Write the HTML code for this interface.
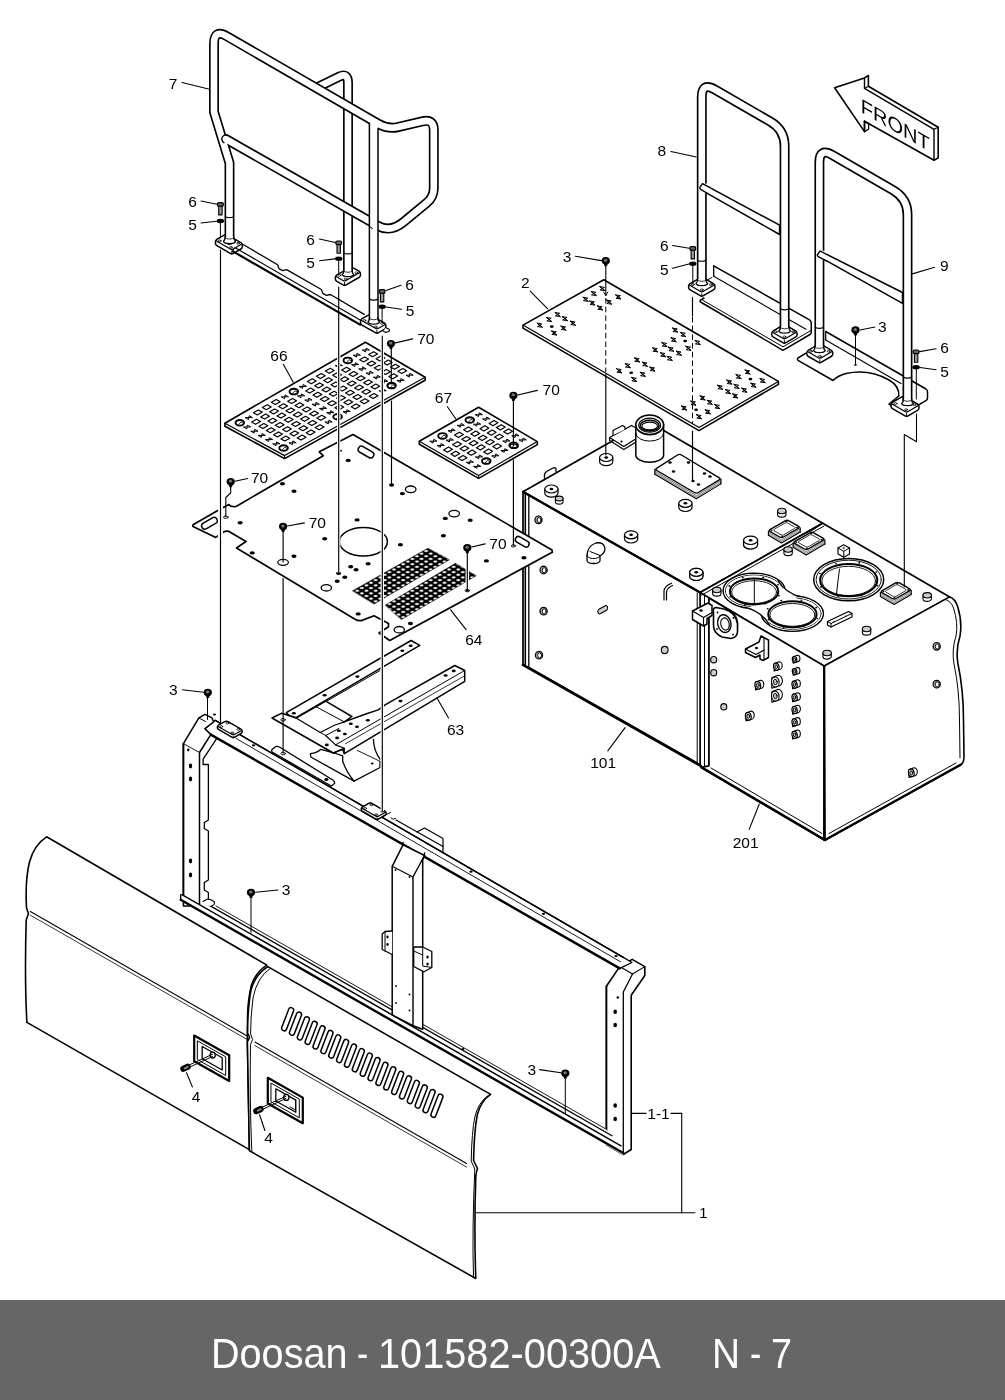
<!DOCTYPE html>
<html><head><meta charset="utf-8"><title>Doosan 101582-00300A</title>
<style>
html,body{margin:0;padding:0;background:#fff;}
body{width:1005px;height:1400px;position:relative;overflow:hidden;font-family:"Liberation Sans",sans-serif;}
svg{position:absolute;left:0;top:0;display:block;will-change:transform;}
svg text{font-family:"Liberation Sans",sans-serif;stroke:none;}
.bar{position:absolute;left:0;top:1300px;width:1005px;height:100px;background:#666;will-change:transform;}
.bar span{position:absolute;top:29.4px;line-height:50px;color:#fff;font-size:42.2px;white-space:pre;transform-origin:0 0;}
</style></head><body>
<svg width="1005" height="1300" viewBox="0 0 1005 1300">
<g fill="none" stroke="#000" stroke-linecap="round" stroke-linejoin="round">
<path d="M523.0,491.8 L647.4,421.0 L822.7,523.3 L700.1,592.5 Z" stroke-width="1.7" fill="#fff" />
<path d="M523.0,491.8 L700.1,592.5 L700.1,765.7 L523.0,664.8 Z" stroke-width="1.7" fill="#fff" />
<line x1="525.3" y1="494.0" x2="525.3" y2="664.5" stroke-width="1.6" />
<line x1="528.8" y1="496.5" x2="528.8" y2="667.5" stroke-width="1.3" />
<line x1="523.0" y1="491.8" x2="700.1" y2="592.5" stroke-width="2.3" />
<line x1="523.0" y1="664.8" x2="700.5" y2="765.7" stroke-width="2.6" />
<line x1="529.4" y1="667.3" x2="698.0" y2="763.0" stroke-width="1.0" />
<line x1="697.2" y1="593.0" x2="697.2" y2="762.5" stroke-width="1.0" />
<path d="M700.1,592.5 L822.7,523.3 L949.7,596.9 L824.2,666.1 Z" stroke-width="1.7" fill="#fff" />
<path d="M708.8,598.0 L824.2,666.1 L824.2,840.0 L701.5,767.4 L708.8,765.9 Z" stroke-width="1.6" fill="#fff" />
<line x1="708.8" y1="598.0" x2="708.8" y2="765.9" stroke-width="1.4" />
<line x1="704.5" y1="596.0" x2="704.5" y2="766.5" stroke-width="1.0" />
<path d="M824.2,666.1 L949.7,596.9 Q955,598.5 957.5,606 Q962.5,622 960,636 Q955.5,650 958,664 Q963.5,690 963.5,720 L964,757 Q964,763 960.5,765 L825,840 Z" stroke-width="1.6" fill="#fff" />
<path d="M945.5,599.5 Q951,601 953.5,608 Q958.5,623 956,636 Q951.5,650 954,664 Q959.5,690 959.5,720 L960,758" stroke-width="1.0" fill="none" />
<line x1="824.2" y1="666.1" x2="824.2" y2="840.0" stroke-width="2.2" />
<line x1="701.5" y1="767.4" x2="825.0" y2="840.0" stroke-width="2.6" />
<line x1="825.0" y1="840.0" x2="961.0" y2="764.5" stroke-width="2.4" />
<line x1="829.0" y1="833.5" x2="956.0" y2="763.0" stroke-width="1.0" />
<line x1="711.0" y1="768.0" x2="822.0" y2="833.5" stroke-width="1.0" />
<line x1="701.5" y1="595.2" x2="824.0" y2="526.0" stroke-width="1.0" />
<path d="M803,534.5 Q814,530.5 822.7,523.3" stroke-width="1.0" fill="none" />
<text x="603.1" y="768.0" font-size="15.5" text-anchor="middle" stroke="none" fill="#000">101</text>
<line x1="607.8" y1="750.9" x2="625.1" y2="727.7" stroke-width="1.1" />
<text x="745.7" y="847.5" font-size="15.5" text-anchor="middle" stroke="none" fill="#000">201</text>
<line x1="749.2" y1="829.4" x2="759.3" y2="804.0" stroke-width="1.1" />
<path d="M544.8,489.0 L544.8,493.2 A6.6,4.0 0 0 0 558.0,493.2 L558.0,489.0" stroke-width="1.2" fill="#fff" />
<ellipse cx="551.4" cy="489.0" rx="6.6" ry="4.0" stroke-width="1.2" fill="#fff"/>
<ellipse cx="551.4" cy="489.0" rx="1.9" ry="1.2" fill="#000" stroke="none"/>
<path d="M599.6,457.5 L599.6,461.7 A6.6,4.0 0 0 0 612.8,461.7 L612.8,457.5" stroke-width="1.2" fill="#fff" />
<ellipse cx="606.2" cy="457.5" rx="6.6" ry="4.0" stroke-width="1.2" fill="#fff"/>
<ellipse cx="606.2" cy="457.5" rx="1.9" ry="1.2" fill="#000" stroke="none"/>
<path d="M678.8,503.3 L678.8,507.5 A6.6,4.0 0 0 0 692.0,507.5 L692.0,503.3" stroke-width="1.2" fill="#fff" />
<ellipse cx="685.4" cy="503.3" rx="6.6" ry="4.0" stroke-width="1.2" fill="#fff"/>
<ellipse cx="685.4" cy="503.3" rx="1.9" ry="1.2" fill="#000" stroke="none"/>
<path d="M624.5,534.8 L624.5,539.0 A6.6,4.0 0 0 0 637.7,539.0 L637.7,534.8" stroke-width="1.2" fill="#fff" />
<ellipse cx="631.1" cy="534.8" rx="6.6" ry="4.0" stroke-width="1.2" fill="#fff"/>
<ellipse cx="631.1" cy="534.8" rx="1.9" ry="1.2" fill="#000" stroke="none"/>
<path d="M689.7,572.3 L689.7,576.5 A6.6,4.0 0 0 0 702.9,576.5 L702.9,572.3" stroke-width="1.2" fill="#fff" />
<ellipse cx="696.3" cy="572.3" rx="6.6" ry="4.0" stroke-width="1.2" fill="#fff"/>
<ellipse cx="696.3" cy="572.3" rx="1.9" ry="1.2" fill="#000" stroke="none"/>
<path d="M743.5,540.8 L743.5,545.0 A6.6,4.0 0 0 0 756.7,545.0 L756.7,540.8" stroke-width="1.2" fill="#fff" />
<ellipse cx="750.1" cy="540.8" rx="6.6" ry="4.0" stroke-width="1.2" fill="#fff"/>
<ellipse cx="750.1" cy="540.8" rx="1.9" ry="1.2" fill="#000" stroke="none"/>
<path d="M555.4,498.5 L555.4,501.7 A3.8,2.4 0 0 0 563.0,501.7 L563.0,498.5" stroke-width="1.1" fill="#fff" />
<ellipse cx="559.2" cy="498.5" rx="3.8" ry="2.4" stroke-width="1.1" fill="#ccc"/>
<path d="M544.5,478 L544.5,474.5 Q545,472.5 547,471.3 L553,468 Q555.5,467.2 556,469 L556,471.5" stroke-width="1.3" fill="#fff" />
<path d="M609.6,437.5 L631.6,425.5 L645.0,433.0 L623.8,446.5 Z" stroke-width="1.3" fill="#fff" />
<path d="M609.6,437.5 L609.6,440.5 L623.8,449.6 L645.0,436.5" stroke-width="1.2" fill="none" />
<path d="M613.0,435.0 L613.0,430.5 L622.5,425.5 L625.0,427.0 L625.0,429.5" stroke-width="1.2" fill="#fff" />
<ellipse cx="621.5" cy="441.5" rx="1.2" ry="0.9" fill="#000" stroke="none"/>
<path d="M635.8,424.6 L635.8,455 A13.9,7.2 0 0 0 663.6,455 L663.6,424.6" stroke-width="1.5" fill="#fff" />
<ellipse cx="649.7" cy="424.8" rx="13.9" ry="9.8" stroke-width="1.6" fill="#fff"/>
<ellipse cx="649.7" cy="425.2" rx="10.9" ry="7.0" stroke-width="1.2" fill="none"/>
<ellipse cx="649.7" cy="425.6" rx="9.3" ry="5.3" fill="none" stroke="#000" stroke-width="1.6" stroke-dasharray="2 1.3"/>
<ellipse cx="649.7" cy="426.0" rx="7.8" ry="3.9" stroke-width="1.1" fill="#fff"/>
<path d="M635.8,433.5 A13.9,7.6 0 0 0 663.6,433.5" stroke-width="1.0" fill="none" />
<path d="M654.9,474.3 L696.3,498.7 L720.9,483.9" stroke-width="1.1" fill="none" />
<path d="M654.9,472.7 L696.3,497.1 L720.9,482.3" stroke-width="0.55" fill="none" />
<path d="M654.9,471.1 L696.3,495.5 L720.9,480.7" stroke-width="0.55" fill="none" />
<path d="M656.9,468.1 L677.5,455.0 Q679.5,453.8 681.5,455.0 L718.9,477.7 Q720.9,478.9 718.9,480.1 L698.3,492.5 Q696.3,493.7 694.3,492.5 L656.9,470.5 Q654.9,469.3 656.9,468.1 Z" stroke-width="1.4" fill="#fff" />
<line x1="654.9" y1="469.3" x2="654.9" y2="474.3" stroke-width="1.2" />
<line x1="720.9" y1="478.9" x2="720.9" y2="483.9" stroke-width="1.2" />
<ellipse cx="670.0" cy="462.5" rx="1.7" ry="1.2" fill="#000" stroke="none"/>
<ellipse cx="688.5" cy="462.5" rx="1.7" ry="1.2" fill="#000" stroke="none"/>
<ellipse cx="673.5" cy="471.5" rx="1.7" ry="1.2" fill="#000" stroke="none"/>
<ellipse cx="704.5" cy="473.5" rx="1.7" ry="1.2" fill="#000" stroke="none"/>
<ellipse cx="710.0" cy="476.5" rx="1.7" ry="1.2" fill="#000" stroke="none"/>
<ellipse cx="698.5" cy="484.5" rx="1.7" ry="1.2" fill="#000" stroke="none"/>
<ellipse cx="693.0" cy="481.0" rx="1.7" ry="1.2" fill="#000" stroke="none"/>
<ellipse cx="538.5" cy="519.8" rx="3.6" ry="3.7800000000000002" stroke-width="1.2" fill="#aaa"/>
<ellipse cx="539.1" cy="520.0" rx="1.9800000000000002" ry="2.52" stroke-width="0.9" fill="#fff"/>
<ellipse cx="543.6" cy="570.0" rx="3.6" ry="3.7800000000000002" stroke-width="1.2" fill="#aaa"/>
<ellipse cx="544.2" cy="570.2" rx="1.9800000000000002" ry="2.52" stroke-width="0.9" fill="#fff"/>
<ellipse cx="543.6" cy="611.2" rx="3.6" ry="3.7800000000000002" stroke-width="1.2" fill="#aaa"/>
<ellipse cx="544.2" cy="611.4" rx="1.9800000000000002" ry="2.52" stroke-width="0.9" fill="#fff"/>
<ellipse cx="539.0" cy="655.2" rx="3.6" ry="3.7800000000000002" stroke-width="1.2" fill="#aaa"/>
<ellipse cx="539.6" cy="655.4" rx="1.9800000000000002" ry="2.52" stroke-width="0.9" fill="#fff"/>
<ellipse cx="936.7" cy="646.3" rx="3.6" ry="3.7800000000000002" stroke-width="1.2" fill="#aaa"/>
<ellipse cx="937.3" cy="646.5" rx="1.9800000000000002" ry="2.52" stroke-width="0.9" fill="#fff"/>
<ellipse cx="936.7" cy="684.2" rx="3.6" ry="3.7800000000000002" stroke-width="1.2" fill="#aaa"/>
<ellipse cx="937.3" cy="684.4" rx="1.9800000000000002" ry="2.52" stroke-width="0.9" fill="#fff"/>
<path d="M587,555 L587,560.5 A6.5,3 0 0 0 600,560.5 L600,556 Q605,553 605,548.5 Q604,541.5 596,543 Q588,545.5 587,555 Z" stroke-width="1.3" fill="#fff" />
<path d="M587,555 A6.5,3 0 0 0 600,556" stroke-width="1.0" fill="none" />
<path d="M590,551.5 L600,555.5" stroke-width="1.0" fill="none" />
<path d="M598.5,609.5 L604.8,606 A1.7,2.4 0 0 1 607,610 L600.7,613.5 A1.7,2.4 0 0 1 598.5,609.5 Z" stroke-width="1.1" fill="#ccc" />
<ellipse cx="664.7" cy="650.0" rx="3.4" ry="3.6" stroke-width="1.1" fill="#ccc"/>
<path d="M664,600 L664,591 Q664.5,586 671.5,583.2" stroke-width="1.2" fill="none" />
<path d="M666.5,600 L666.5,592 Q667,588 672.5,585.5" stroke-width="1.2" fill="none" />
<ellipse cx="754.1" cy="590.8" rx="31" ry="17.6" stroke-width="1.5" fill="#fff"/>
<ellipse cx="792.4" cy="613.6" rx="31" ry="17.6" stroke-width="1.5" fill="#fff"/>
<ellipse cx="754.1" cy="590.8" rx="30.2" ry="16.8" fill="#fff" stroke="none"/>
<ellipse cx="792.4" cy="613.6" rx="30.2" ry="16.8" fill="#fff" stroke="none"/>
<path d="M778.6,581.8 Q785.6,593.2 799,597.4 L769,624 Q761.5,612.8 746,608 Z" fill="#fff" stroke="none"/>
<ellipse cx="754.1" cy="590.8" rx="28.6" ry="15.7" stroke-width="0.9" fill="none"/>
<ellipse cx="792.4" cy="613.6" rx="28.6" ry="15.7" stroke-width="0.9" fill="none"/>
<ellipse cx="754.1" cy="590.8" rx="28.1" ry="15.2" fill="#fff" stroke="none"/>
<ellipse cx="792.4" cy="613.6" rx="28.1" ry="15.2" fill="#fff" stroke="none"/>
<path d="M779,584 Q786,594.5 797,598 L770,622 Q762,613.5 748,609 Z" fill="#fff" stroke="none"/>
<path d="M778,580.5 Q785,592.5 800,596.6" stroke-width="1.4" fill="none" />
<path d="M745,607.2 Q762,612 769.5,625" stroke-width="1.4" fill="none" />
<ellipse cx="754.1" cy="591.4" rx="24.2" ry="13.0" stroke-width="2.0" fill="#fff"/>
<ellipse cx="792.4" cy="614.2" rx="24.2" ry="13.0" stroke-width="2.0" fill="#fff"/>
<ellipse cx="754.1" cy="592.1" rx="22.4" ry="11.4" stroke-width="0.9" fill="none"/>
<ellipse cx="792.4" cy="614.9" rx="22.4" ry="11.4" stroke-width="0.9" fill="none"/>
<line x1="754.3" y1="579.0" x2="754.3" y2="603.5" stroke-width="1.0" />
<ellipse cx="778.9" cy="595.7" rx="1.0" ry="0.8" fill="#000" stroke="none"/>
<ellipse cx="765.3" cy="603.8" rx="1.0" ry="0.8" fill="#000" stroke="none"/>
<ellipse cx="745.1" cy="604.2" rx="1.0" ry="0.8" fill="#000" stroke="none"/>
<ellipse cx="730.2" cy="596.8" rx="1.0" ry="0.8" fill="#000" stroke="none"/>
<ellipse cx="729.3" cy="585.9" rx="1.0" ry="0.8" fill="#000" stroke="none"/>
<ellipse cx="742.9" cy="577.8" rx="1.0" ry="0.8" fill="#000" stroke="none"/>
<ellipse cx="763.1" cy="577.4" rx="1.0" ry="0.8" fill="#000" stroke="none"/>
<ellipse cx="778.0" cy="584.8" rx="1.0" ry="0.8" fill="#000" stroke="none"/>
<ellipse cx="817.2" cy="618.5" rx="1.0" ry="0.8" fill="#000" stroke="none"/>
<ellipse cx="803.6" cy="626.6" rx="1.0" ry="0.8" fill="#000" stroke="none"/>
<ellipse cx="783.4" cy="627.0" rx="1.0" ry="0.8" fill="#000" stroke="none"/>
<ellipse cx="768.5" cy="619.6" rx="1.0" ry="0.8" fill="#000" stroke="none"/>
<ellipse cx="767.6" cy="608.7" rx="1.0" ry="0.8" fill="#000" stroke="none"/>
<ellipse cx="781.2" cy="600.6" rx="1.0" ry="0.8" fill="#000" stroke="none"/>
<ellipse cx="801.4" cy="600.2" rx="1.0" ry="0.8" fill="#000" stroke="none"/>
<ellipse cx="816.3" cy="607.6" rx="1.0" ry="0.8" fill="#000" stroke="none"/>
<ellipse cx="848.7" cy="579.6" rx="35" ry="21.2" stroke-width="1.5" fill="#fff"/>
<ellipse cx="848.7" cy="579.6" rx="32.6" ry="19.4" stroke-width="0.9" fill="none"/>
<ellipse cx="848.7" cy="580.1" rx="28.6" ry="16.2" stroke-width="2.0" fill="#fff"/>
<ellipse cx="848.7" cy="580.9" rx="26.8" ry="14.6" stroke-width="0.9" fill="none"/>
<path d="M839.5,569 Q838,580 836.5,594" stroke-width="1.0" fill="none" />
<ellipse cx="877.5" cy="585.7" rx="1.0" ry="0.8" fill="#000" stroke="none"/>
<ellipse cx="861.6" cy="595.7" rx="1.0" ry="0.8" fill="#000" stroke="none"/>
<ellipse cx="838.2" cy="596.3" rx="1.0" ry="0.8" fill="#000" stroke="none"/>
<ellipse cx="821.0" cy="587.1" rx="1.0" ry="0.8" fill="#000" stroke="none"/>
<ellipse cx="819.9" cy="573.5" rx="1.0" ry="0.8" fill="#000" stroke="none"/>
<ellipse cx="835.8" cy="563.5" rx="1.0" ry="0.8" fill="#000" stroke="none"/>
<ellipse cx="859.2" cy="562.9" rx="1.0" ry="0.8" fill="#000" stroke="none"/>
<ellipse cx="876.4" cy="572.1" rx="1.0" ry="0.8" fill="#000" stroke="none"/>
<path d="M768.4,535.3 L781.5,542.9 L800.2,532.1" stroke-width="1.1" fill="none" />
<path d="M768.4,533.8 L781.5,541.4 L800.2,530.6" stroke-width="0.5" fill="none" />
<path d="M768.4,532.2 L781.5,539.8 L800.2,529.0" stroke-width="0.5" fill="none" />
<path d="M770.3,529.4 Q768.4,530.5 770.3,531.6 L779.6,537.0 Q781.5,538.1 783.4,537.0 L798.3,528.4 Q800.2,527.3 798.3,526.2 L789.0,520.8 Q787.1,519.7 785.2,520.8 Z" stroke-width="1.4" fill="#fff" />
<line x1="768.4" y1="531.0" x2="768.4" y2="535.3" stroke-width="1.1" />
<line x1="800.2" y1="527.8" x2="800.2" y2="532.1" stroke-width="1.1" />
<path d="M774.1,529.3 Q772.8,530.1 774.1,530.8 L781.0,534.8 Q782.3,535.5 783.6,534.8 L794.5,528.5 Q795.8,527.7 794.5,527.0 L787.6,523.0 Q786.3,522.3 785.0,523.0 Z" stroke-width="0.8" fill="none" />
<ellipse cx="771.6" cy="530.2" rx="1.0" ry="0.8" fill="#000" stroke="none"/>
<ellipse cx="782.1" cy="536.3" rx="1.0" ry="0.8" fill="#000" stroke="none"/>
<ellipse cx="797.0" cy="527.6" rx="1.0" ry="0.8" fill="#000" stroke="none"/>
<ellipse cx="786.5" cy="521.5" rx="1.0" ry="0.8" fill="#000" stroke="none"/>
<path d="M793.1,547.3 L806.2,554.9 L824.9,544.1" stroke-width="1.1" fill="none" />
<path d="M793.1,545.8 L806.2,553.4 L824.9,542.6" stroke-width="0.5" fill="none" />
<path d="M793.1,544.2 L806.2,551.8 L824.9,541.0" stroke-width="0.5" fill="none" />
<path d="M795.0,541.4 Q793.1,542.5 795.0,543.6 L804.3,549.0 Q806.2,550.1 808.1,549.0 L823.0,540.4 Q824.9,539.3 823.0,538.2 L813.7,532.8 Q811.8,531.7 809.9,532.8 Z" stroke-width="1.4" fill="#fff" />
<line x1="793.1" y1="543.0" x2="793.1" y2="547.3" stroke-width="1.1" />
<line x1="824.9" y1="539.8" x2="824.9" y2="544.1" stroke-width="1.1" />
<path d="M798.8,541.3 Q797.5,542.1 798.8,542.8 L805.7,546.8 Q807.0,547.5 808.3,546.8 L819.2,540.5 Q820.5,539.7 819.2,539.0 L812.3,535.0 Q811.0,534.3 809.7,535.0 Z" stroke-width="0.8" fill="none" />
<ellipse cx="796.3" cy="542.2" rx="1.0" ry="0.8" fill="#000" stroke="none"/>
<ellipse cx="806.8" cy="548.3" rx="1.0" ry="0.8" fill="#000" stroke="none"/>
<ellipse cx="821.7" cy="539.6" rx="1.0" ry="0.8" fill="#000" stroke="none"/>
<ellipse cx="811.2" cy="533.5" rx="1.0" ry="0.8" fill="#000" stroke="none"/>
<path d="M880.4,596.5 L894.1,604.4 L911.2,594.5" stroke-width="1.1" fill="none" />
<path d="M880.4,595.0 L894.1,602.9 L911.2,593.0" stroke-width="0.5" fill="none" />
<path d="M880.4,593.4 L894.1,601.3 L911.2,591.4" stroke-width="0.5" fill="none" />
<path d="M882.3,590.6 Q880.4,591.7 882.3,592.8 L892.2,598.5 Q894.1,599.6 896.0,598.5 L909.3,590.8 Q911.2,589.7 909.3,588.6 L899.4,582.9 Q897.5,581.8 895.6,582.9 Z" stroke-width="1.4" fill="#fff" />
<line x1="880.4" y1="592.2" x2="880.4" y2="596.5" stroke-width="1.1" />
<line x1="911.2" y1="590.2" x2="911.2" y2="594.5" stroke-width="1.1" />
<path d="M886.0,590.7 Q884.7,591.4 886.0,592.2 L893.3,596.4 Q894.6,597.1 895.9,596.4 L905.6,590.7 Q906.9,590.0 905.6,589.2 L898.3,585.0 Q897.0,584.3 895.7,585.0 Z" stroke-width="0.8" fill="none" />
<ellipse cx="883.5" cy="591.5" rx="1.0" ry="0.8" fill="#000" stroke="none"/>
<ellipse cx="894.4" cy="597.8" rx="1.0" ry="0.8" fill="#000" stroke="none"/>
<ellipse cx="908.1" cy="589.9" rx="1.0" ry="0.8" fill="#000" stroke="none"/>
<ellipse cx="897.2" cy="583.6" rx="1.0" ry="0.8" fill="#000" stroke="none"/>
<path d="M838.0,548.0 L843.5,544.8 L849.5,548.0 L849.5,554.0 L843.8,557.3 L838.0,554.0 Z" stroke-width="1.2" fill="#fff" />
<path d="M838.0,548.0 L843.8,551.3 L849.5,548.0" stroke-width="1.0" fill="none" />
<line x1="843.8" y1="551.3" x2="843.8" y2="557.3" stroke-width="1.0" />
<ellipse cx="843.7" cy="548.0" rx="1.2" ry="0.8" fill="#000" stroke="none"/>
<path d="M743.6,540.3 L743.6,544.8 A7,4.2 0 0 0 757.6,544.8 L757.6,540.3" stroke-width="1.2" fill="#fff" />
<ellipse cx="750.6" cy="540.3" rx="7" ry="4.2" stroke-width="1.2" fill="#fff"/>
<ellipse cx="750.6" cy="540.3" rx="1.9" ry="1.2" fill="#000" stroke="none"/>
<path d="M689.7,572.3 L689.7,576.5 A6.6,4.0 0 0 0 702.9,576.5 L702.9,572.3" stroke-width="1.2" fill="#fff" />
<ellipse cx="696.3" cy="572.3" rx="6.6" ry="4.0" stroke-width="1.2" fill="#fff"/>
<ellipse cx="696.3" cy="572.3" rx="1.9" ry="1.2" fill="#000" stroke="none"/>
<path d="M777.6,511.0 L777.6,514.4 A4.2,2.7 0 0 0 786.0,514.4 L786.0,511.0" stroke-width="1.1" fill="#fff" />
<ellipse cx="781.8" cy="511.0" rx="4.2" ry="2.7" stroke-width="1.1" fill="#ccc"/>
<path d="M783.9,549.5 L783.9,552.9 A4.2,2.7 0 0 0 792.3,552.9 L792.3,549.5" stroke-width="1.1" fill="#fff" />
<ellipse cx="788.1" cy="549.5" rx="4.2" ry="2.7" stroke-width="1.1" fill="#ccc"/>
<path d="M712.6,590.0 L712.6,593.4 A4.2,2.7 0 0 0 721.0,593.4 L721.0,590.0" stroke-width="1.1" fill="#fff" />
<ellipse cx="716.8" cy="590.0" rx="4.2" ry="2.7" stroke-width="1.1" fill="#ccc"/>
<path d="M822.9,653.0 L822.9,656.4 A4.2,2.7 0 0 0 831.3,656.4 L831.3,653.0" stroke-width="1.1" fill="#fff" />
<ellipse cx="827.1" cy="653.0" rx="4.2" ry="2.7" stroke-width="1.1" fill="#ccc"/>
<path d="M862.4,629.0 L862.4,632.4 A4.2,2.7 0 0 0 870.8,632.4 L870.8,629.0" stroke-width="1.1" fill="#fff" />
<ellipse cx="866.6" cy="629.0" rx="4.2" ry="2.7" stroke-width="1.1" fill="#ccc"/>
<path d="M923.0,595.3 L923.0,598.7 A4.2,2.7 0 0 0 931.4,598.7 L931.4,595.3" stroke-width="1.1" fill="#fff" />
<ellipse cx="927.2" cy="595.3" rx="4.2" ry="2.7" stroke-width="1.1" fill="#ccc"/>
<path d="M827.5,621.5 L848.5,611.5 L852.0,613.5 L852.0,617.0 L831.0,627.0 L827.5,625.0 Z" stroke-width="1.2" fill="#fff" />
<path d="M827.5,621.5 L831.0,623.5 L852.0,613.5" stroke-width="1.0" fill="none" />
<line x1="831.0" y1="623.5" x2="831.0" y2="627.0" stroke-width="1.0" />
<ellipse cx="834.0" cy="621.5" rx="0.8" ry="0.6" fill="#000" stroke="none"/>
<ellipse cx="845.5" cy="616.0" rx="0.8" ry="0.6" fill="#000" stroke="none"/>
<path d="M692.5,611 L708,603 L712,605.5 L712,615.5 L707,618.5 L707,624 L703.5,626 L692.5,619.5 Z" stroke-width="1.5" fill="#fff" />
<path d="M692.5,611 L703.5,617.5 L712,612.5" stroke-width="1.1" fill="none" />
<line x1="703.5" y1="617.5" x2="703.5" y2="626.0" stroke-width="1.1" />
<ellipse cx="701.0" cy="610.5" rx="1.7" ry="1.2" fill="#000" stroke="none"/>
<path d="M713.5,612 Q712.5,608 716,607.5 L724,609 Q736,612.5 737.5,624 L737.5,632 Q737,637.5 731,638.5 L722,637 Q714,633.5 713.5,626 Z" stroke-width="1.6" fill="#fff" />
<ellipse cx="724.3" cy="623.6" rx="6.6" ry="9" stroke-width="1.4" fill="#fff" transform="rotate(-12 724.3 623.6)"/>
<ellipse cx="725.0" cy="624.0" rx="4.2" ry="6.2" stroke-width="1.1" fill="none" transform="rotate(-12 725.0 624.0)"/>
<path d="M731,611.5 Q739.5,616 737.5,628" stroke-width="1.0" fill="none" />
<ellipse cx="717.5" cy="612.5" rx="0.9" ry="0.9" fill="#000" stroke="none"/>
<ellipse cx="733.5" cy="618.0" rx="0.9" ry="0.9" fill="#000" stroke="none"/>
<ellipse cx="733.0" cy="634.5" rx="0.9" ry="0.9" fill="#000" stroke="none"/>
<ellipse cx="717.0" cy="629.0" rx="0.9" ry="0.9" fill="#000" stroke="none"/>
<path d="M745.5,649 L759,642 L761,636 L768.5,640 L768.5,657.5 L763,660.5 L760,659 L760,655 L755.5,657.5 L745.5,652.5 Z" stroke-width="1.5" fill="#fff" />
<path d="M745.5,649 L756,654.5 L764,650 L764,659.5" stroke-width="1.1" fill="none" />
<line x1="764.0" y1="650.0" x2="764.0" y2="638.0" stroke-width="1.1" />
<ellipse cx="756.5" cy="648.0" rx="1.6" ry="1.2" fill="#000" stroke="none"/>
<path d="M793.1,656.8 L797.3,655.3 A2.4,3.0 0 0 1 797.3,661.9 L793.1,663.1 Z" stroke-width="1.1" fill="#fff" />
<ellipse cx="794.6" cy="659.5" rx="2.25" ry="3.0" stroke-width="1.2" fill="#fff" transform="rotate(-10 794.6 659.5)"/>
<ellipse cx="794.6" cy="659.5" rx="1.1400000000000001" ry="1.6500000000000001" stroke-width="0.9" fill="#bbb" transform="rotate(-10 794.6 659.5)"/>
<path d="M793.1,668.9 L797.3,667.4 A2.4,3.0 0 0 1 797.3,674.0 L793.1,675.2 Z" stroke-width="1.1" fill="#fff" />
<ellipse cx="794.6" cy="671.6" rx="2.25" ry="3.0" stroke-width="1.2" fill="#fff" transform="rotate(-10 794.6 671.6)"/>
<ellipse cx="794.6" cy="671.6" rx="1.1400000000000001" ry="1.6500000000000001" stroke-width="0.9" fill="#bbb" transform="rotate(-10 794.6 671.6)"/>
<path d="M792.6,681.5 L797.3,679.8 A2.8,3.5 0 0 1 797.3,687.4 L792.6,688.8 Z" stroke-width="1.1" fill="#fff" />
<ellipse cx="794.6" cy="684.6" rx="2.625" ry="3.5" stroke-width="1.2" fill="#fff" transform="rotate(-10 794.6 684.6)"/>
<ellipse cx="794.6" cy="684.6" rx="1.33" ry="1.9250000000000003" stroke-width="0.9" fill="#bbb" transform="rotate(-10 794.6 684.6)"/>
<path d="M792.6,694.4 L797.3,692.7 A2.8,3.5 0 0 1 797.3,700.4 L792.6,701.8 Z" stroke-width="1.1" fill="#fff" />
<ellipse cx="794.6" cy="697.5" rx="2.625" ry="3.5" stroke-width="1.2" fill="#fff" transform="rotate(-10 794.6 697.5)"/>
<ellipse cx="794.6" cy="697.5" rx="1.33" ry="1.9250000000000003" stroke-width="0.9" fill="#bbb" transform="rotate(-10 794.6 697.5)"/>
<path d="M792.6,706.9 L797.3,705.2 A2.8,3.5 0 0 1 797.3,712.9 L792.6,714.2 Z" stroke-width="1.1" fill="#fff" />
<ellipse cx="794.6" cy="710.0" rx="2.625" ry="3.5" stroke-width="1.2" fill="#fff" transform="rotate(-10 794.6 710.0)"/>
<ellipse cx="794.6" cy="710.0" rx="1.33" ry="1.9250000000000003" stroke-width="0.9" fill="#bbb" transform="rotate(-10 794.6 710.0)"/>
<path d="M792.6,719.3 L797.3,717.6 A2.8,3.5 0 0 1 797.3,725.2 L792.6,726.6 Z" stroke-width="1.1" fill="#fff" />
<ellipse cx="794.6" cy="722.4" rx="2.625" ry="3.5" stroke-width="1.2" fill="#fff" transform="rotate(-10 794.6 722.4)"/>
<ellipse cx="794.6" cy="722.4" rx="1.33" ry="1.9250000000000003" stroke-width="0.9" fill="#bbb" transform="rotate(-10 794.6 722.4)"/>
<path d="M792.6,731.7 L797.3,730.0 A2.8,3.5 0 0 1 797.3,737.6 L792.6,739.0 Z" stroke-width="1.1" fill="#fff" />
<ellipse cx="794.6" cy="734.8" rx="2.625" ry="3.5" stroke-width="1.2" fill="#fff" transform="rotate(-10 794.6 734.8)"/>
<ellipse cx="794.6" cy="734.8" rx="1.33" ry="1.9250000000000003" stroke-width="0.9" fill="#bbb" transform="rotate(-10 794.6 734.8)"/>
<path d="M774.2,663.5 L779.0,661.7 A2.9,3.6 0 0 1 779.0,669.6 L774.2,671.1 Z" stroke-width="1.1" fill="#fff" />
<ellipse cx="776.3" cy="666.7" rx="2.7" ry="3.6" stroke-width="1.2" fill="#fff" transform="rotate(-10 776.3 666.7)"/>
<ellipse cx="776.3" cy="666.7" rx="1.368" ry="1.9800000000000002" stroke-width="0.9" fill="#bbb" transform="rotate(-10 776.3 666.7)"/>
<path d="M755.5,682.1 L760.5,680.2 A3.0,3.8 0 0 1 760.5,688.5 L755.5,690.0 Z" stroke-width="1.1" fill="#fff" />
<ellipse cx="757.8" cy="685.4" rx="2.8499999999999996" ry="3.8" stroke-width="1.2" fill="#fff" transform="rotate(-10 757.8 685.4)"/>
<ellipse cx="757.8" cy="685.4" rx="1.444" ry="2.09" stroke-width="0.9" fill="#bbb" transform="rotate(-10 757.8 685.4)"/>
<path d="M771.8,677.7 L778.0,675.2 A4.0,5.0 0 0 1 778.0,686.2 L771.8,688.2 Z" stroke-width="1.1" fill="#fff" />
<ellipse cx="775.3" cy="682.0" rx="3.75" ry="5" stroke-width="1.2" fill="#fff" transform="rotate(-10 775.3 682.0)"/>
<ellipse cx="775.3" cy="682.0" rx="1.9" ry="2.75" stroke-width="0.9" fill="#bbb" transform="rotate(-10 775.3 682.0)"/>
<path d="M771.8,691.8 L778.0,689.3 A4.0,5.0 0 0 1 778.0,700.3 L771.8,702.3 Z" stroke-width="1.1" fill="#fff" />
<ellipse cx="775.3" cy="696.1" rx="3.75" ry="5" stroke-width="1.2" fill="#fff" transform="rotate(-10 775.3 696.1)"/>
<ellipse cx="775.3" cy="696.1" rx="1.9" ry="2.75" stroke-width="0.9" fill="#bbb" transform="rotate(-10 775.3 696.1)"/>
<path d="M746.0,713.0 L751.0,711.1 A3.0,3.8 0 0 1 751.0,719.4 L746.0,720.9 Z" stroke-width="1.1" fill="#fff" />
<ellipse cx="748.3" cy="716.3" rx="2.8499999999999996" ry="3.8" stroke-width="1.2" fill="#fff" transform="rotate(-10 748.3 716.3)"/>
<ellipse cx="748.3" cy="716.3" rx="1.444" ry="2.09" stroke-width="0.9" fill="#bbb" transform="rotate(-10 748.3 716.3)"/>
<path d="M909.0,769.6 L914.0,767.7 A3.0,3.8 0 0 1 914.0,776.0 L909.0,777.5 Z" stroke-width="1.1" fill="#fff" />
<ellipse cx="911.3" cy="772.9" rx="2.8499999999999996" ry="3.8" stroke-width="1.2" fill="#fff" transform="rotate(-10 911.3 772.9)"/>
<ellipse cx="911.3" cy="772.9" rx="1.444" ry="2.09" stroke-width="0.9" fill="#bbb" transform="rotate(-10 911.3 772.9)"/>
<ellipse cx="723.8" cy="706.8" rx="3.0" ry="3.2" stroke-width="1.1" fill="#ccc"/>
<ellipse cx="713.7" cy="659.7" rx="3.0" ry="3.2" stroke-width="1.1" fill="#ccc"/>
<ellipse cx="713.7" cy="672.7" rx="3.0" ry="3.2" stroke-width="1.1" fill="#ccc"/>
<path d="M336.9,275.1 Q335.3,276.1 335.3,277.9 L335.3,278.7 Q335.3,280.5 336.9,281.4 L343.0,284.8 Q344.5,285.8 346.1,284.8 L358.9,277.5 Q360.5,276.5 360.5,274.7 L360.5,273.9 Q360.5,272.1 358.9,271.2 L352.8,267.8 Q351.3,266.9 349.7,267.8 Z" stroke-width="1.5" fill="#fff" />
<path d="M336.9,275.1 Q335.3,276.1 336.9,277.0 L343.0,280.4 Q344.5,281.4 346.1,280.4 L358.9,273.1 Q360.5,272.1 358.9,271.2 L352.8,267.8 Q351.3,266.9 349.7,267.8 Z" stroke-width="1.2" fill="#fff" />
<line x1="344.5" y1="282.4" x2="344.5" y2="285.8" stroke-width="0.9" />
<ellipse cx="339.4" cy="275.4" rx="1.4" ry="0.9" fill="none" stroke-width="0.8"/>
<ellipse cx="356.4" cy="272.8" rx="1.4" ry="0.9" fill="none" stroke-width="0.8"/>
<ellipse cx="345.6" cy="279.0" rx="1.4" ry="0.9" fill="none" stroke-width="0.8"/>
<ellipse cx="350.2" cy="269.2" rx="1.4" ry="0.9" fill="none" stroke-width="0.8"/>
<path d="M348,274 L348,83 Q348,72.5 339.5,76.6 L316,88" stroke="#000" stroke-width="9.950000000000001" fill="none" stroke-linecap="butt"/>
<path d="M348,274 L348,83 Q348,72.5 339.5,76.6 L316,88" stroke="#fff" stroke-width="6.65" fill="none" stroke-linecap="butt"/>
<path d="M343.9,252.7 A4.2,1.6 0 0 0 352.1,252.7" stroke-width="1.2" fill="none" />
<path d="M343.9,270.0 Q343.9,273.5 342.1,274.5 A6.0,2.6 0 0 0 353.9,274.5 Q352.1,273.5 352.1,270.0" stroke-width="1.3" fill="#fff" />
<path d="M343.9,271.0 A4.2,1.6 0 0 0 352.1,271.0" stroke-width="0.8" fill="none" />
<path d="M216.9,239.4 Q215.4,240.3 215.4,242.1 L215.4,242.9 Q215.4,244.7 216.9,245.6 L230.3,253.3 Q231.8,254.2 233.4,253.3 L240.9,249.0 Q242.4,248.1 242.4,246.3 L242.4,245.5 Q242.4,243.7 240.9,242.8 L227.5,235.1 Q226.0,234.2 224.4,235.1 Z" stroke-width="1.5" fill="#fff" />
<path d="M216.9,239.4 Q215.4,240.3 216.9,241.2 L230.3,248.9 Q231.8,249.8 233.4,248.9 L240.9,244.6 Q242.4,243.7 240.9,242.8 L227.5,235.1 Q226.0,234.2 224.4,235.1 Z" stroke-width="1.2" fill="#fff" />
<line x1="231.8" y1="250.8" x2="231.8" y2="254.2" stroke-width="0.9" />
<ellipse cx="219.7" cy="240.8" rx="1.4" ry="0.9" fill="none" stroke-width="0.8"/>
<ellipse cx="238.1" cy="243.2" rx="1.4" ry="0.9" fill="none" stroke-width="0.8"/>
<ellipse cx="230.9" cy="247.3" rx="1.4" ry="0.9" fill="none" stroke-width="0.8"/>
<ellipse cx="226.9" cy="236.7" rx="1.4" ry="0.9" fill="none" stroke-width="0.8"/>
<path d="M241.8,243.8 L277.6,264.7 L279.0,268.6 L282.6,270.6 L286.6,269.6 L321.4,289.5 L322.8,293.4 L326.4,295.4 L330.4,294.5 L364.2,314.4" stroke-width="1.3" fill="none" />
<line x1="234.9" y1="247.6" x2="361.0" y2="320.4" stroke-width="1.2" />
<line x1="233.0" y1="251.4" x2="360.0" y2="324.6" stroke-width="2.2" />
<line x1="233.0" y1="249.0" x2="233.0" y2="252.0" stroke-width="1.2" />
<path d="M362.0,318.8 Q360.5,319.8 360.5,321.6 L360.5,322.3 Q360.5,324.1 362.0,325.1 L375.4,332.7 Q376.9,333.6 378.5,332.7 L384.4,329.4 Q385.9,328.4 385.9,326.6 L385.9,325.8 Q385.9,324.0 384.4,323.1 L371.0,315.5 Q369.5,314.5 367.9,315.5 Z" stroke-width="1.5" fill="#fff" />
<path d="M362.0,318.8 Q360.5,319.8 362.0,320.7 L375.4,328.3 Q376.9,329.2 378.5,328.3 L384.4,325.0 Q385.9,324.0 384.4,323.1 L371.0,315.5 Q369.5,314.5 367.9,315.5 Z" stroke-width="1.2" fill="#fff" />
<line x1="376.9" y1="330.2" x2="376.9" y2="333.6" stroke-width="0.9" />
<ellipse cx="364.5" cy="320.4" rx="1.4" ry="0.9" fill="none" stroke-width="0.8"/>
<ellipse cx="381.9" cy="323.4" rx="1.4" ry="0.9" fill="none" stroke-width="0.8"/>
<ellipse cx="375.7" cy="326.9" rx="1.4" ry="0.9" fill="none" stroke-width="0.8"/>
<ellipse cx="370.7" cy="316.9" rx="1.4" ry="0.9" fill="none" stroke-width="0.8"/>
<path d="M385.5,327.5 L389.5,329.5 L389.5,331.0 L386.0,332.5 L383.5,331.3" stroke-width="1.2" fill="#fff" />
<path d="M229.5,240 L229.5,163 L214,112 L214,44 Q214,28.8 227,36.3 L378,123.6 Q388.3,129.5 398,127.1 L422,121.4 Q433.8,118.5 433.8,130 L433.8,188 Q433.8,197 427,202.6 L404,221.7 Q390.5,232.9 378,225.8 L226,139.1" stroke="#000" stroke-width="9.950000000000001" fill="none" stroke-linecap="round"/>
<path d="M229.5,240 L229.5,163 L214,112 L214,44 Q214,28.8 227,36.3 L378,123.6 Q388.3,129.5 398,127.1 L422,121.4 Q433.8,118.5 433.8,130 L433.8,188 Q433.8,197 427,202.6 L404,221.7 Q390.5,232.9 378,225.8 L226,139.1" stroke="#fff" stroke-width="6.65" fill="none" stroke-linecap="round"/>
<path d="M228.1,135.5 A4.15,4.15 0 0 0 223.9,142.7" stroke-width="1.4" fill="none" />
<path d="M225.3,216.0 A4.2,1.6 0 0 0 233.7,216.0" stroke-width="1.2" fill="none" />
<path d="M225.3,236.5 Q225.3,240.0 223.5,241.0 A6.0,2.6 0 0 0 235.5,241.0 Q233.7,240.0 233.7,236.5" stroke-width="1.3" fill="#fff" />
<path d="M225.3,237.5 A4.2,1.6 0 0 0 233.7,237.5" stroke-width="0.8" fill="none" />
<path d="M373.7,126.2 L373.7,321" stroke="#fff" stroke-width="8.3" stroke-linecap="butt"/>
<path d="M370,121.6 L377.4,125.9 L377.4,130 L370,130 Z" fill="#fff" stroke="none"/>
<line x1="369.4" y1="123.6" x2="369.4" y2="321.0" stroke-width="1.5" />
<line x1="378.0" y1="128.7" x2="378.0" y2="321.0" stroke-width="1.5" />
<path d="M369.6,298.9 A4.2,1.6 0 0 0 377.8,298.9" stroke-width="1.2" fill="none" />
<path d="M369.6,317.5 Q369.6,321.0 367.8,322.0 A6.0,2.6 0 0 0 379.6,322.0 Q377.8,321.0 377.8,317.5" stroke-width="1.3" fill="#fff" />
<path d="M369.6,318.5 A4.2,1.6 0 0 0 377.8,318.5" stroke-width="0.8" fill="none" />
<path d="M369.5,221.5 L369.5,226.5 L372.5,228.5" stroke-width="1.0" fill="none" />
<rect x="217.5" y="202.7" width="5.8" height="3.6" rx="1.3" fill="#666" stroke-width="1.2"/>
<rect x="218.7" y="206.3" width="3.4" height="8.6" fill="#999" stroke-width="1.1"/>
<ellipse cx="220.4" cy="221.0" rx="3.7" ry="2.2" fill="#000" stroke="none"/>
<line x1="220.4" y1="223.0" x2="220.4" y2="238.0" stroke-width="1.0" />
<rect x="335.8" y="241.0" width="5.8" height="3.6" rx="1.3" fill="#666" stroke-width="1.2"/>
<rect x="337.0" y="244.6" width="3.4" height="8.6" fill="#999" stroke-width="1.1"/>
<ellipse cx="338.7" cy="258.7" rx="3.7" ry="2.2" fill="#000" stroke="none"/>
<line x1="338.7" y1="260.7" x2="338.7" y2="274.0" stroke-width="1.0" />
<rect x="379.2" y="289.7" width="5.8" height="3.6" rx="1.3" fill="#666" stroke-width="1.2"/>
<rect x="380.4" y="293.3" width="3.4" height="8.6" fill="#999" stroke-width="1.1"/>
<ellipse cx="382.1" cy="306.8" rx="3.7" ry="2.2" fill="#000" stroke="none"/>
<line x1="382.1" y1="308.8" x2="382.1" y2="322.0" stroke-width="1.0" />
<text x="173.0" y="88.5" font-size="15.5" text-anchor="middle" stroke="none" fill="#000">7</text>
<line x1="182.0" y1="82.5" x2="208.5" y2="89.0" stroke-width="1.1" />
<text x="192.5" y="207.2" font-size="15.5" text-anchor="middle" stroke="none" fill="#000">6</text>
<line x1="201.0" y1="201.0" x2="217.0" y2="204.2" stroke-width="1.1" />
<text x="192.5" y="230.3" font-size="15.5" text-anchor="middle" stroke="none" fill="#000">5</text>
<line x1="201.0" y1="223.0" x2="216.5" y2="221.2" stroke-width="1.1" />
<text x="310.5" y="244.7" font-size="15.5" text-anchor="middle" stroke="none" fill="#000">6</text>
<line x1="319.5" y1="239.0" x2="335.3" y2="242.5" stroke-width="1.1" />
<text x="310.5" y="268.0" font-size="15.5" text-anchor="middle" stroke="none" fill="#000">5</text>
<line x1="319.5" y1="260.8" x2="334.8" y2="258.9" stroke-width="1.1" />
<text x="409.5" y="290.0" font-size="15.5" text-anchor="middle" stroke="none" fill="#000">6</text>
<line x1="401.0" y1="285.3" x2="386.0" y2="290.5" stroke-width="1.1" />
<text x="410.0" y="316.0" font-size="15.5" text-anchor="middle" stroke="none" fill="#000">5</text>
<line x1="401.5" y1="309.3" x2="386.0" y2="307.0" stroke-width="1.1" />
<path d="M224.9,423.2 L365.4,342.3 L425.1,377.2 L425.1,380.2 L284.6,458.6 L224.9,426.2 Z" stroke-width="1.6" fill="#fff" />
<path d="M224.9,423.2 L284.6,455.6 L425.1,377.2" stroke-width="1.2" fill="none" />
<line x1="284.6" y1="455.6" x2="284.6" y2="458.6" stroke-width="1.0" />
<ellipse cx="239.8" cy="422.8" rx="4.3" ry="2.8" stroke-width="1.9" fill="#fff"/>
<path d="M238.8,424.4 L241.0,422.0 L243.2,423.2" stroke-width="0.8" fill="none" />
<path d="M245.5,417.8 L248.5,419.5 L249.1,415.7 L252.1,417.4 Z" stroke-width="1.0" fill="none" />
<path d="M253.4,412.7 L257.3,414.9 L262.2,412.1 L258.3,409.9 Z" stroke-width="1.2" fill="none" />
<path d="M262.4,407.5 L266.3,409.7 L271.2,406.9 L267.3,404.7 Z" stroke-width="1.2" fill="none" />
<path d="M271.4,402.3 L275.3,404.5 L280.2,401.7 L276.3,399.5 Z" stroke-width="1.2" fill="none" />
<path d="M281.5,397.0 L284.5,398.7 L285.1,394.9 L288.1,396.6 Z" stroke-width="1.0" fill="none" />
<ellipse cx="293.8" cy="391.6" rx="4.3" ry="2.8" stroke-width="1.9" fill="#fff"/>
<path d="M292.8,393.2 L295.0,390.8 L297.2,392.0" stroke-width="0.8" fill="none" />
<path d="M299.5,386.6 L302.5,388.3 L303.1,384.5 L306.1,386.2 Z" stroke-width="1.0" fill="none" />
<path d="M307.4,381.5 L311.3,383.7 L316.2,380.9 L312.3,378.7 Z" stroke-width="1.2" fill="none" />
<path d="M316.4,376.3 L320.3,378.5 L325.2,375.7 L321.3,373.5 Z" stroke-width="1.2" fill="none" />
<path d="M325.4,371.1 L329.3,373.3 L334.2,370.5 L330.3,368.3 Z" stroke-width="1.2" fill="none" />
<path d="M335.5,365.8 L338.5,367.5 L339.1,363.7 L342.1,365.4 Z" stroke-width="1.0" fill="none" />
<ellipse cx="347.8" cy="360.4" rx="4.3" ry="2.8" stroke-width="1.9" fill="#fff"/>
<path d="M346.8,362.0 L349.0,359.6 L351.2,360.8" stroke-width="0.8" fill="none" />
<path d="M353.5,355.4 L356.5,357.1 L357.1,353.3 L360.1,355.0 Z" stroke-width="1.0" fill="none" />
<path d="M362.5,350.2 L365.5,351.9 L366.1,348.1 L369.1,349.8 Z" stroke-width="1.0" fill="none" />
<path d="M243.8,427.2 L246.8,428.9 L247.4,425.1 L250.4,426.8 Z" stroke-width="1.0" fill="none" />
<path d="M251.7,422.1 L255.6,424.3 L260.5,421.5 L256.6,419.3 Z" stroke-width="1.2" fill="none" />
<path d="M260.7,416.9 L264.6,419.1 L269.5,416.3 L265.6,414.1 Z" stroke-width="1.2" fill="none" />
<path d="M269.7,411.7 L273.6,413.9 L278.5,411.1 L274.6,408.9 Z" stroke-width="1.2" fill="none" />
<path d="M278.7,406.5 L282.6,408.7 L287.5,405.9 L283.6,403.7 Z" stroke-width="1.2" fill="none" />
<path d="M287.7,401.3 L291.6,403.5 L296.5,400.7 L292.6,398.5 Z" stroke-width="1.2" fill="none" />
<path d="M297.8,396.0 L300.8,397.7 L301.4,393.9 L304.4,395.6 Z" stroke-width="1.0" fill="none" />
<path d="M305.7,390.9 L309.6,393.1 L314.5,390.3 L310.6,388.1 Z" stroke-width="1.2" fill="none" />
<path d="M314.7,385.7 L318.6,387.9 L323.5,385.1 L319.6,382.9 Z" stroke-width="1.2" fill="none" />
<path d="M323.7,380.5 L327.6,382.7 L332.5,379.9 L328.6,377.7 Z" stroke-width="1.2" fill="none" />
<path d="M332.7,375.3 L336.6,377.5 L341.5,374.7 L337.6,372.5 Z" stroke-width="1.2" fill="none" />
<path d="M341.7,370.1 L345.6,372.3 L350.5,369.5 L346.6,367.3 Z" stroke-width="1.2" fill="none" />
<path d="M351.8,364.8 L354.8,366.5 L355.4,362.7 L358.4,364.4 Z" stroke-width="1.0" fill="none" />
<path d="M359.7,359.7 L363.6,361.9 L368.5,359.1 L364.6,356.9 Z" stroke-width="1.2" fill="none" />
<path d="M368.7,354.5 L372.6,356.7 L377.5,353.9 L373.6,351.7 Z" stroke-width="1.2" fill="none" />
<path d="M251.1,431.4 L254.1,433.1 L254.7,429.3 L257.7,431.0 Z" stroke-width="1.0" fill="none" />
<path d="M259.0,426.3 L262.9,428.5 L267.8,425.7 L263.9,423.5 Z" stroke-width="1.2" fill="none" />
<path d="M268.0,421.1 L271.9,423.3 L276.8,420.5 L272.9,418.3 Z" stroke-width="1.2" fill="none" />
<path d="M277.0,415.9 L280.9,418.1 L285.8,415.3 L281.9,413.1 Z" stroke-width="1.2" fill="none" />
<path d="M286.0,410.7 L289.9,412.9 L294.8,410.1 L290.9,407.9 Z" stroke-width="1.2" fill="none" />
<path d="M295.0,405.5 L298.9,407.7 L303.8,404.9 L299.9,402.7 Z" stroke-width="1.2" fill="none" />
<path d="M305.1,400.2 L308.1,401.9 L308.7,398.1 L311.7,399.8 Z" stroke-width="1.0" fill="none" />
<path d="M313.0,395.1 L316.9,397.3 L321.8,394.5 L317.9,392.3 Z" stroke-width="1.2" fill="none" />
<path d="M322.0,389.9 L325.9,392.1 L330.8,389.3 L326.9,387.1 Z" stroke-width="1.2" fill="none" />
<path d="M331.0,384.7 L334.9,386.9 L339.8,384.1 L335.9,381.9 Z" stroke-width="1.2" fill="none" />
<path d="M340.0,379.5 L343.9,381.7 L348.8,378.9 L344.9,376.7 Z" stroke-width="1.2" fill="none" />
<path d="M349.0,374.3 L352.9,376.5 L357.8,373.7 L353.9,371.5 Z" stroke-width="1.2" fill="none" />
<path d="M359.1,369.0 L362.1,370.7 L362.7,366.9 L365.7,368.6 Z" stroke-width="1.0" fill="none" />
<path d="M367.0,363.9 L370.9,366.1 L375.8,363.3 L371.9,361.1 Z" stroke-width="1.2" fill="none" />
<path d="M376.0,358.7 L379.9,360.9 L384.8,358.1 L380.9,355.9 Z" stroke-width="1.2" fill="none" />
<path d="M258.4,435.6 L261.4,437.3 L262.0,433.5 L265.0,435.2 Z" stroke-width="1.0" fill="none" />
<path d="M266.3,430.5 L270.2,432.7 L275.1,429.9 L271.2,427.7 Z" stroke-width="1.2" fill="none" />
<path d="M275.3,425.3 L279.2,427.5 L284.1,424.7 L280.2,422.5 Z" stroke-width="1.2" fill="none" />
<path d="M284.3,420.1 L288.2,422.3 L293.1,419.5 L289.2,417.3 Z" stroke-width="1.2" fill="none" />
<path d="M293.3,414.9 L297.2,417.1 L302.1,414.3 L298.2,412.1 Z" stroke-width="1.2" fill="none" />
<path d="M302.3,409.7 L306.2,411.9 L311.1,409.1 L307.2,406.9 Z" stroke-width="1.2" fill="none" />
<path d="M312.4,404.4 L315.4,406.1 L316.0,402.3 L319.0,404.0 Z" stroke-width="1.0" fill="none" />
<path d="M320.3,399.3 L324.2,401.5 L329.1,398.7 L325.2,396.5 Z" stroke-width="1.2" fill="none" />
<path d="M329.3,394.1 L333.2,396.3 L338.1,393.5 L334.2,391.3 Z" stroke-width="1.2" fill="none" />
<path d="M338.3,388.9 L342.2,391.1 L347.1,388.3 L343.2,386.1 Z" stroke-width="1.2" fill="none" />
<path d="M347.3,383.7 L351.2,385.9 L356.1,383.1 L352.2,380.9 Z" stroke-width="1.2" fill="none" />
<path d="M356.3,378.5 L360.2,380.7 L365.1,377.9 L361.2,375.7 Z" stroke-width="1.2" fill="none" />
<path d="M366.4,373.2 L369.4,374.9 L370.0,371.1 L373.0,372.8 Z" stroke-width="1.0" fill="none" />
<path d="M374.3,368.1 L378.2,370.3 L383.1,367.5 L379.2,365.3 Z" stroke-width="1.2" fill="none" />
<path d="M383.3,362.9 L387.2,365.1 L392.1,362.3 L388.2,360.1 Z" stroke-width="1.2" fill="none" />
<path d="M265.7,439.8 L268.7,441.5 L269.3,437.7 L272.3,439.4 Z" stroke-width="1.0" fill="none" />
<path d="M273.6,434.7 L277.5,436.9 L282.4,434.1 L278.5,431.9 Z" stroke-width="1.2" fill="none" />
<path d="M282.6,429.5 L286.5,431.7 L291.4,428.9 L287.5,426.7 Z" stroke-width="1.2" fill="none" />
<path d="M291.6,424.3 L295.5,426.5 L300.4,423.7 L296.5,421.5 Z" stroke-width="1.2" fill="none" />
<path d="M300.6,419.1 L304.5,421.3 L309.4,418.5 L305.5,416.3 Z" stroke-width="1.2" fill="none" />
<path d="M309.6,413.9 L313.5,416.1 L318.4,413.3 L314.5,411.1 Z" stroke-width="1.2" fill="none" />
<path d="M319.7,408.6 L322.7,410.3 L323.3,406.5 L326.3,408.2 Z" stroke-width="1.0" fill="none" />
<path d="M327.6,403.5 L331.5,405.7 L336.4,402.9 L332.5,400.7 Z" stroke-width="1.2" fill="none" />
<path d="M336.6,398.3 L340.5,400.5 L345.4,397.7 L341.5,395.5 Z" stroke-width="1.2" fill="none" />
<path d="M345.6,393.1 L349.5,395.3 L354.4,392.5 L350.5,390.3 Z" stroke-width="1.2" fill="none" />
<path d="M354.6,387.9 L358.5,390.1 L363.4,387.3 L359.5,385.1 Z" stroke-width="1.2" fill="none" />
<path d="M363.6,382.7 L367.5,384.9 L372.4,382.1 L368.5,379.9 Z" stroke-width="1.2" fill="none" />
<path d="M373.7,377.4 L376.7,379.1 L377.3,375.3 L380.3,377.0 Z" stroke-width="1.0" fill="none" />
<path d="M381.6,372.3 L385.5,374.5 L390.4,371.7 L386.5,369.5 Z" stroke-width="1.2" fill="none" />
<path d="M390.6,367.1 L394.5,369.3 L399.4,366.5 L395.5,364.3 Z" stroke-width="1.2" fill="none" />
<path d="M273.0,444.0 L276.0,445.7 L276.6,441.9 L279.6,443.6 Z" stroke-width="1.0" fill="none" />
<path d="M280.9,438.9 L284.8,441.1 L289.7,438.3 L285.8,436.1 Z" stroke-width="1.2" fill="none" />
<path d="M289.9,433.7 L293.8,435.9 L298.7,433.1 L294.8,430.9 Z" stroke-width="1.2" fill="none" />
<path d="M298.9,428.5 L302.8,430.7 L307.7,427.9 L303.8,425.7 Z" stroke-width="1.2" fill="none" />
<path d="M307.9,423.3 L311.8,425.5 L316.7,422.7 L312.8,420.5 Z" stroke-width="1.2" fill="none" />
<path d="M316.9,418.1 L320.8,420.3 L325.7,417.5 L321.8,415.3 Z" stroke-width="1.2" fill="none" />
<path d="M327.0,412.8 L330.0,414.5 L330.6,410.7 L333.6,412.4 Z" stroke-width="1.0" fill="none" />
<path d="M334.9,407.7 L338.8,409.9 L343.7,407.1 L339.8,404.9 Z" stroke-width="1.2" fill="none" />
<path d="M343.9,402.5 L347.8,404.7 L352.7,401.9 L348.8,399.7 Z" stroke-width="1.2" fill="none" />
<path d="M352.9,397.3 L356.8,399.5 L361.7,396.7 L357.8,394.5 Z" stroke-width="1.2" fill="none" />
<path d="M361.9,392.1 L365.8,394.3 L370.7,391.5 L366.8,389.3 Z" stroke-width="1.2" fill="none" />
<path d="M370.9,386.9 L374.8,389.1 L379.7,386.3 L375.8,384.1 Z" stroke-width="1.2" fill="none" />
<path d="M381.0,381.6 L384.0,383.3 L384.6,379.5 L387.6,381.2 Z" stroke-width="1.0" fill="none" />
<path d="M388.9,376.5 L392.8,378.7 L397.7,375.9 L393.8,373.7 Z" stroke-width="1.2" fill="none" />
<path d="M397.9,371.3 L401.8,373.5 L406.7,370.7 L402.8,368.5 Z" stroke-width="1.2" fill="none" />
<ellipse cx="283.6" cy="448.0" rx="4.3" ry="2.8" stroke-width="1.9" fill="#fff"/>
<path d="M282.6,449.6 L284.8,447.2 L287.0,448.4" stroke-width="0.8" fill="none" />
<path d="M289.3,443.0 L292.3,444.7 L292.9,440.9 L295.9,442.6 Z" stroke-width="1.0" fill="none" />
<path d="M297.2,437.9 L301.1,440.1 L306.0,437.3 L302.1,435.1 Z" stroke-width="1.2" fill="none" />
<path d="M306.2,432.7 L310.1,434.9 L315.0,432.1 L311.1,429.9 Z" stroke-width="1.2" fill="none" />
<path d="M315.2,427.5 L319.1,429.7 L324.0,426.9 L320.1,424.7 Z" stroke-width="1.2" fill="none" />
<path d="M325.3,422.2 L328.3,423.9 L328.9,420.1 L331.9,421.8 Z" stroke-width="1.0" fill="none" />
<ellipse cx="337.6" cy="416.8" rx="4.3" ry="2.8" stroke-width="1.9" fill="#fff"/>
<path d="M336.6,418.4 L338.8,416.0 L341.0,417.2" stroke-width="0.8" fill="none" />
<path d="M343.3,411.8 L346.3,413.5 L346.9,409.7 L349.9,411.4 Z" stroke-width="1.0" fill="none" />
<path d="M351.2,406.7 L355.1,408.9 L360.0,406.1 L356.1,403.9 Z" stroke-width="1.2" fill="none" />
<path d="M360.2,401.5 L364.1,403.7 L369.0,400.9 L365.1,398.7 Z" stroke-width="1.2" fill="none" />
<path d="M369.2,396.3 L373.1,398.5 L378.0,395.7 L374.1,393.5 Z" stroke-width="1.2" fill="none" />
<path d="M379.3,391.0 L382.3,392.7 L382.9,388.9 L385.9,390.6 Z" stroke-width="1.0" fill="none" />
<ellipse cx="391.6" cy="385.6" rx="4.3" ry="2.8" stroke-width="1.9" fill="#fff"/>
<path d="M390.6,387.2 L392.8,384.8 L395.0,386.0" stroke-width="0.8" fill="none" />
<path d="M397.3,380.6 L400.3,382.3 L400.9,378.5 L403.9,380.2 Z" stroke-width="1.0" fill="none" />
<path d="M406.3,375.4 L409.3,377.1 L409.9,373.3 L412.9,375.0 Z" stroke-width="1.0" fill="none" />
<text x="278.9" y="361.3" font-size="15.5" text-anchor="middle" stroke="none" fill="#000">66</text>
<line x1="283.3" y1="364.3" x2="293.3" y2="382.2" stroke-width="1.1" />
<path d="M419.3,441.2 L478.6,407.2 L537.3,441.6 L537.3,444.6 L478.6,478.4 L419.3,444.2 Z" stroke-width="1.6" fill="#fff" />
<path d="M419.3,441.2 L478.6,475.4 L537.3,441.6" stroke-width="1.2" fill="none" />
<line x1="478.6" y1="475.4" x2="478.6" y2="478.4" stroke-width="1.0" />
<path d="M430.1,441.4 L433.0,443.1 L433.8,439.3 L436.7,441.0 Z" stroke-width="1.0" fill="none" />
<ellipse cx="442.5" cy="435.9" rx="4.3" ry="2.8" stroke-width="1.9" fill="#fff"/>
<path d="M441.5,437.5 L443.7,435.1 L445.9,436.3" stroke-width="0.8" fill="none" />
<path d="M448.3,430.8 L451.2,432.5 L452.0,428.7 L454.9,430.4 Z" stroke-width="1.0" fill="none" />
<path d="M457.4,425.5 L460.3,427.2 L461.1,423.4 L464.0,425.1 Z" stroke-width="1.0" fill="none" />
<ellipse cx="469.8" cy="420.0" rx="4.3" ry="2.8" stroke-width="1.9" fill="#fff"/>
<path d="M468.8,421.6 L471.0,419.2 L473.2,420.4" stroke-width="0.8" fill="none" />
<path d="M475.6,414.9 L478.5,416.6 L479.3,412.8 L482.2,414.5 Z" stroke-width="1.0" fill="none" />
<path d="M437.4,445.6 L440.3,447.3 L441.1,443.5 L444.0,445.2 Z" stroke-width="1.0" fill="none" />
<path d="M446.5,440.3 L449.4,442.0 L450.2,438.2 L453.1,439.9 Z" stroke-width="1.0" fill="none" />
<path d="M454.5,435.1 L458.4,437.4 L463.3,434.5 L459.4,432.2 Z" stroke-width="1.2" fill="none" />
<path d="M463.6,429.8 L467.5,432.1 L472.4,429.2 L468.5,426.9 Z" stroke-width="1.2" fill="none" />
<path d="M473.8,424.4 L476.7,426.1 L477.5,422.3 L480.4,424.0 Z" stroke-width="1.0" fill="none" />
<path d="M482.9,419.1 L485.8,420.8 L486.6,417.0 L489.5,418.7 Z" stroke-width="1.0" fill="none" />
<path d="M443.6,449.9 L447.5,452.2 L452.4,449.3 L448.5,447.0 Z" stroke-width="1.2" fill="none" />
<path d="M452.7,444.6 L456.6,446.9 L461.5,444.0 L457.6,441.7 Z" stroke-width="1.2" fill="none" />
<path d="M461.8,439.3 L465.7,441.6 L470.6,438.7 L466.7,436.4 Z" stroke-width="1.2" fill="none" />
<path d="M470.9,434.0 L474.8,436.3 L479.7,433.4 L475.8,431.1 Z" stroke-width="1.2" fill="none" />
<path d="M480.0,428.7 L483.9,431.0 L488.8,428.1 L484.9,425.8 Z" stroke-width="1.2" fill="none" />
<path d="M489.1,423.4 L493.0,425.7 L497.9,422.8 L494.0,420.5 Z" stroke-width="1.2" fill="none" />
<path d="M450.9,454.1 L454.8,456.4 L459.7,453.5 L455.8,451.2 Z" stroke-width="1.2" fill="none" />
<path d="M460.0,448.8 L463.9,451.1 L468.8,448.2 L464.9,445.9 Z" stroke-width="1.2" fill="none" />
<path d="M469.1,443.5 L473.0,445.8 L477.9,442.9 L474.0,440.6 Z" stroke-width="1.2" fill="none" />
<path d="M478.2,438.2 L482.1,440.5 L487.0,437.6 L483.1,435.3 Z" stroke-width="1.2" fill="none" />
<path d="M487.3,432.9 L491.2,435.2 L496.1,432.3 L492.2,430.0 Z" stroke-width="1.2" fill="none" />
<path d="M496.4,427.6 L500.3,429.9 L505.2,427.0 L501.3,424.7 Z" stroke-width="1.2" fill="none" />
<path d="M458.2,458.3 L462.1,460.6 L467.0,457.7 L463.1,455.4 Z" stroke-width="1.2" fill="none" />
<path d="M467.3,453.0 L471.2,455.3 L476.1,452.4 L472.2,450.1 Z" stroke-width="1.2" fill="none" />
<path d="M476.4,447.7 L480.3,450.0 L485.2,447.1 L481.3,444.8 Z" stroke-width="1.2" fill="none" />
<path d="M485.5,442.4 L489.4,444.7 L494.3,441.8 L490.4,439.5 Z" stroke-width="1.2" fill="none" />
<path d="M494.6,437.1 L498.5,439.4 L503.4,436.5 L499.5,434.2 Z" stroke-width="1.2" fill="none" />
<path d="M503.7,431.8 L507.6,434.1 L512.5,431.2 L508.6,428.9 Z" stroke-width="1.2" fill="none" />
<path d="M466.6,462.4 L469.5,464.1 L470.3,460.3 L473.2,462.0 Z" stroke-width="1.0" fill="none" />
<path d="M475.7,457.1 L478.6,458.8 L479.4,455.0 L482.3,456.7 Z" stroke-width="1.0" fill="none" />
<path d="M483.7,451.9 L487.6,454.2 L492.5,451.3 L488.6,449.0 Z" stroke-width="1.2" fill="none" />
<path d="M492.8,446.6 L496.7,448.9 L501.6,446.0 L497.7,443.7 Z" stroke-width="1.2" fill="none" />
<path d="M503.0,441.2 L505.9,442.9 L506.7,439.1 L509.6,440.8 Z" stroke-width="1.0" fill="none" />
<path d="M512.1,435.9 L515.0,437.6 L515.8,433.8 L518.7,435.5 Z" stroke-width="1.0" fill="none" />
<path d="M473.9,466.6 L476.8,468.3 L477.6,464.5 L480.5,466.2 Z" stroke-width="1.0" fill="none" />
<ellipse cx="486.3" cy="461.1" rx="4.3" ry="2.8" stroke-width="1.9" fill="#fff"/>
<path d="M485.3,462.7 L487.5,460.3 L489.7,461.5" stroke-width="0.8" fill="none" />
<path d="M492.1,456.0 L495.0,457.7 L495.8,453.9 L498.7,455.6 Z" stroke-width="1.0" fill="none" />
<path d="M501.2,450.7 L504.1,452.4 L504.9,448.6 L507.8,450.3 Z" stroke-width="1.0" fill="none" />
<ellipse cx="513.6" cy="445.2" rx="4.3" ry="2.8" stroke-width="1.9" fill="#fff"/>
<path d="M512.6,446.8 L514.8,444.4 L517.0,445.6" stroke-width="0.8" fill="none" />
<path d="M519.4,440.1 L522.3,441.8 L523.1,438.0 L526.0,439.7 Z" stroke-width="1.0" fill="none" />
<text x="443.4" y="403.1" font-size="15.5" text-anchor="middle" stroke="none" fill="#000">67</text>
<line x1="447.4" y1="406.8" x2="455.7" y2="418.7" stroke-width="1.1" />
<path d="M353,434.5 L552,550 L552.3,552.2 L389.7,640.5 L379,633 L388.5,626.8 L388.5,623.6 L374,615.8 L362,620.4 Q358.5,621.2 355,619.2 L236.5,548 L246,541.5 L229,531.4 Q226,530.6 223.5,532 L215.8,537.4 L193.5,526.8 Q192,525.6 193.5,524.5 L217.8,510.5 L228.8,504.6 Q232,507.8 236.5,506.2 L323.3,455.8 L319.3,451.8 Z" stroke-width="1.7" fill="#fff" />
<rect x="357.5" y="448.8" width="17" height="6.5" rx="3.25" stroke-width="1.5" fill="#fff" transform="rotate(30 366.0 452.0)"/>
<rect x="514.7" y="538.8" width="15" height="6" rx="3.0" stroke-width="1.5" fill="#fff" transform="rotate(30 522.2 541.8)"/>
<rect x="201.0" y="520.0" width="17" height="6.5" rx="3.25" stroke-width="1.5" fill="#fff" transform="rotate(-30 209.5 523.3)"/>
<ellipse cx="363.4" cy="541.8" rx="24" ry="14.3" stroke-width="1.5" fill="none"/>
<ellipse cx="410.7" cy="489.3" rx="5.3" ry="3.3" stroke-width="1.3" fill="none"/>
<ellipse cx="454.2" cy="513.6" rx="5.3" ry="3.3" stroke-width="1.3" fill="none"/>
<ellipse cx="399.3" cy="629.7" rx="5.2" ry="3.2" stroke-width="1.3" fill="none"/>
<ellipse cx="326.3" cy="587.8" rx="5.2" ry="3.2" stroke-width="1.3" fill="none"/>
<ellipse cx="283.1" cy="562.3" rx="5.3" ry="3.0" stroke-width="1.2" fill="none"/>
<ellipse cx="282.5" cy="483.7" rx="2.6" ry="1.7" fill="#000" stroke="none"/>
<ellipse cx="294.0" cy="491.2" rx="2.6" ry="1.7" fill="#000" stroke="none"/>
<ellipse cx="348.2" cy="460.4" rx="2.6" ry="1.7" fill="#000" stroke="none"/>
<ellipse cx="240.1" cy="522.7" rx="2.6" ry="1.7" fill="#000" stroke="none"/>
<ellipse cx="252.2" cy="552.9" rx="2.6" ry="1.7" fill="#000" stroke="none"/>
<ellipse cx="294.0" cy="556.3" rx="2.6" ry="1.7" fill="#000" stroke="none"/>
<ellipse cx="324.7" cy="538.8" rx="2.6" ry="1.7" fill="#000" stroke="none"/>
<ellipse cx="357.1" cy="519.9" rx="2.6" ry="1.7" fill="#000" stroke="none"/>
<ellipse cx="368.1" cy="563.7" rx="2.6" ry="1.7" fill="#000" stroke="none"/>
<ellipse cx="350.7" cy="566.7" rx="2.6" ry="1.7" fill="#000" stroke="none"/>
<ellipse cx="356.1" cy="569.7" rx="2.6" ry="1.7" fill="#000" stroke="none"/>
<ellipse cx="338.6" cy="573.2" rx="2.6" ry="1.7" fill="#000" stroke="none"/>
<ellipse cx="344.8" cy="577.2" rx="2.6" ry="1.7" fill="#000" stroke="none"/>
<ellipse cx="391.6" cy="485.0" rx="2.6" ry="1.7" fill="#000" stroke="none"/>
<ellipse cx="402.4" cy="493.6" rx="2.6" ry="1.7" fill="#000" stroke="none"/>
<ellipse cx="445.3" cy="518.4" rx="2.6" ry="1.7" fill="#000" stroke="none"/>
<ellipse cx="470.2" cy="520.3" rx="2.6" ry="1.7" fill="#000" stroke="none"/>
<ellipse cx="443.4" cy="535.8" rx="2.6" ry="1.7" fill="#000" stroke="none"/>
<ellipse cx="400.4" cy="544.7" rx="2.6" ry="1.7" fill="#000" stroke="none"/>
<ellipse cx="486.4" cy="560.9" rx="2.6" ry="1.7" fill="#000" stroke="none"/>
<ellipse cx="523.9" cy="557.8" rx="2.6" ry="1.7" fill="#000" stroke="none"/>
<ellipse cx="337.2" cy="581.2" rx="2.6" ry="1.7" fill="#000" stroke="none"/>
<ellipse cx="358.2" cy="613.9" rx="2.6" ry="1.7" fill="#000" stroke="none"/>
<ellipse cx="410.5" cy="623.5" rx="2.6" ry="1.7" fill="#000" stroke="none"/>
<ellipse cx="340.8" cy="450.8" rx="1.3" ry="1.0" fill="#000" stroke="none"/>
<ellipse cx="467.3" cy="590.5" rx="1.3" ry="0.9" fill="#000" stroke="none"/>
<defs><pattern id="perf" width="5.3" height="5.3" patternUnits="userSpaceOnUse" patternTransform="matrix(0.866,-0.5,0.866,0.5,352.7,590.7)"><rect width="5.3" height="5.3" fill="#000" stroke="none"/><circle cx="2.65" cy="2.65" r="1.62" fill="#fff" stroke="none"/></pattern></defs>
<path d="M352.7,590.7 L427.9,548.2 L449.4,559.7 L374.2,603.9 Z" stroke-width="0.5" fill="url(#perf)" />
<path d="M385.4,605.1 L455.4,563.3 L476.2,575.7 L401.6,619.4 Z" stroke-width="0.5" fill="url(#perf)" />
<text x="473.8" y="644.7" font-size="15.5" text-anchor="middle" stroke="none" fill="#000">64</text>
<line x1="466.1" y1="629.7" x2="450.6" y2="609.9" stroke-width="1.1" />
<path d="M523.0,325.1 L603.8,279.8 L778.4,381.4 L778.4,384.4 L699.0,430.6 L523.0,328.1 Z" stroke-width="1.6" fill="#fff" />
<path d="M523.0,325.1 L699.0,427.6 L778.4,381.4" stroke-width="1.2" fill="none" />
<path d="M537.3,323.2 L541.9,324.0 L537.5,326.6 L542.1,327.2 Z" stroke-width="1.0" fill="none" />
<line x1="537.3" y1="323.2" x2="542.1" y2="327.2" stroke-width="1.0" />
<path d="M546.6,317.5 L551.2,318.3 L546.8,320.9 L551.4,321.5 Z" stroke-width="1.0" fill="none" />
<line x1="546.6" y1="317.5" x2="551.4" y2="321.5" stroke-width="1.0" />
<path d="M555.2,312.5 L559.8,313.3 L555.4,315.9 L560.0,316.5 Z" stroke-width="1.0" fill="none" />
<line x1="555.2" y1="312.5" x2="560.0" y2="316.5" stroke-width="1.0" />
<path d="M562.4,316.6 L567.0,317.4 L562.6,320.0 L567.2,320.6 Z" stroke-width="1.0" fill="none" />
<line x1="562.4" y1="316.6" x2="567.2" y2="320.6" stroke-width="1.0" />
<path d="M570.5,321.2 L575.1,322.0 L570.7,324.6 L575.3,325.2 Z" stroke-width="1.0" fill="none" />
<line x1="570.5" y1="321.2" x2="575.3" y2="325.2" stroke-width="1.0" />
<path d="M561.0,326.1 L565.6,326.9 L561.2,329.5 L565.8,330.1 Z" stroke-width="1.0" fill="none" />
<line x1="561.0" y1="326.1" x2="565.8" y2="330.1" stroke-width="1.0" />
<path d="M551.7,331.0 L556.3,331.8 L551.9,334.4 L556.5,335.0 Z" stroke-width="1.0" fill="none" />
<line x1="551.7" y1="331.0" x2="556.5" y2="335.0" stroke-width="1.0" />
<path d="M583.2,297.3 L587.8,298.1 L583.4,300.7 L588.0,301.3 Z" stroke-width="1.0" fill="none" />
<line x1="583.2" y1="297.3" x2="588.0" y2="301.3" stroke-width="1.0" />
<path d="M591.3,291.5 L595.9,292.3 L591.5,294.9 L596.1,295.5 Z" stroke-width="1.0" fill="none" />
<line x1="591.3" y1="291.5" x2="596.1" y2="295.5" stroke-width="1.0" />
<path d="M599.9,286.6 L604.5,287.4 L600.1,290.0 L604.7,290.6 Z" stroke-width="1.0" fill="none" />
<line x1="599.9" y1="286.6" x2="604.7" y2="290.6" stroke-width="1.0" />
<path d="M589.8,301.0 L594.4,301.8 L590.0,304.4 L594.6,305.0 Z" stroke-width="1.0" fill="none" />
<line x1="589.8" y1="301.0" x2="594.6" y2="305.0" stroke-width="1.0" />
<path d="M597.6,305.9 L602.2,306.7 L597.8,309.3 L602.4,309.9 Z" stroke-width="1.0" fill="none" />
<line x1="597.6" y1="305.9" x2="602.4" y2="309.9" stroke-width="1.0" />
<path d="M606.6,300.1 L611.2,300.9 L606.8,303.5 L611.4,304.1 Z" stroke-width="1.0" fill="none" />
<line x1="606.6" y1="300.1" x2="611.4" y2="304.1" stroke-width="1.0" />
<path d="M615.8,294.9 L620.4,295.7 L616.0,298.3 L620.6,298.9 Z" stroke-width="1.0" fill="none" />
<line x1="615.8" y1="294.9" x2="620.6" y2="298.9" stroke-width="1.0" />
<path d="M672.7,328.1 L677.3,328.9 L672.9,331.5 L677.5,332.1 Z" stroke-width="1.0" fill="none" />
<line x1="672.7" y1="328.1" x2="677.5" y2="332.1" stroke-width="1.0" />
<path d="M680.7,332.5 L685.3,333.3 L680.9,335.9 L685.5,336.5 Z" stroke-width="1.0" fill="none" />
<line x1="680.7" y1="332.5" x2="685.5" y2="336.5" stroke-width="1.0" />
<path d="M671.2,337.7 L675.8,338.5 L671.4,341.1 L676.0,341.7 Z" stroke-width="1.0" fill="none" />
<line x1="671.2" y1="337.7" x2="676.0" y2="341.7" stroke-width="1.0" />
<path d="M662.0,342.6 L666.6,343.4 L662.2,346.0 L666.8,346.6 Z" stroke-width="1.0" fill="none" />
<line x1="662.0" y1="342.6" x2="666.8" y2="346.6" stroke-width="1.0" />
<path d="M652.7,347.8 L657.3,348.6 L652.9,351.2 L657.5,351.8 Z" stroke-width="1.0" fill="none" />
<line x1="652.7" y1="347.8" x2="657.5" y2="351.8" stroke-width="1.0" />
<path d="M660.5,352.7 L665.1,353.5 L660.7,356.1 L665.3,356.7 Z" stroke-width="1.0" fill="none" />
<line x1="660.5" y1="352.7" x2="665.3" y2="356.7" stroke-width="1.0" />
<path d="M668.6,347.2 L673.2,348.0 L668.8,350.6 L673.4,351.2 Z" stroke-width="1.0" fill="none" />
<line x1="668.6" y1="347.2" x2="673.4" y2="351.2" stroke-width="1.0" />
<path d="M667.2,356.4 L671.8,357.2 L667.4,359.8 L672.0,360.4 Z" stroke-width="1.0" fill="none" />
<line x1="667.2" y1="356.4" x2="672.0" y2="360.4" stroke-width="1.0" />
<path d="M676.4,351.2 L681.0,352.0 L676.6,354.6 L681.2,355.2 Z" stroke-width="1.0" fill="none" />
<line x1="676.4" y1="351.2" x2="681.2" y2="355.2" stroke-width="1.0" />
<path d="M685.9,346.3 L690.5,347.1 L686.1,349.7 L690.7,350.3 Z" stroke-width="1.0" fill="none" />
<line x1="685.9" y1="346.3" x2="690.7" y2="350.3" stroke-width="1.0" />
<path d="M695.2,340.5 L699.8,341.3 L695.4,343.9 L700.0,344.5 Z" stroke-width="1.0" fill="none" />
<line x1="695.2" y1="340.5" x2="700.0" y2="344.5" stroke-width="1.0" />
<path d="M616.7,368.8 L621.3,369.6 L616.9,372.2 L621.5,372.8 Z" stroke-width="1.0" fill="none" />
<line x1="616.7" y1="368.8" x2="621.5" y2="372.8" stroke-width="1.0" />
<path d="M625.3,363.6 L629.9,364.4 L625.5,367.0 L630.1,367.6 Z" stroke-width="1.0" fill="none" />
<line x1="625.3" y1="363.6" x2="630.1" y2="367.6" stroke-width="1.0" />
<path d="M634.6,357.9 L639.2,358.7 L634.8,361.3 L639.4,361.9 Z" stroke-width="1.0" fill="none" />
<line x1="634.6" y1="357.9" x2="639.4" y2="361.9" stroke-width="1.0" />
<path d="M642.4,362.2 L647.0,363.0 L642.6,365.6 L647.2,366.2 Z" stroke-width="1.0" fill="none" />
<line x1="642.4" y1="362.2" x2="647.2" y2="366.2" stroke-width="1.0" />
<path d="M649.9,367.1 L654.5,367.9 L650.1,370.5 L654.7,371.1 Z" stroke-width="1.0" fill="none" />
<line x1="649.9" y1="367.1" x2="654.7" y2="371.1" stroke-width="1.0" />
<path d="M640.3,372.3 L644.9,373.1 L640.5,375.7 L645.1,376.3 Z" stroke-width="1.0" fill="none" />
<line x1="640.3" y1="372.3" x2="645.1" y2="376.3" stroke-width="1.0" />
<path d="M631.7,377.5 L636.3,378.3 L631.9,380.9 L636.5,381.5 Z" stroke-width="1.0" fill="none" />
<line x1="631.7" y1="377.5" x2="636.5" y2="381.5" stroke-width="1.0" />
<path d="M745.1,370.0 L749.7,370.8 L745.3,373.4 L749.9,374.0 Z" stroke-width="1.0" fill="none" />
<line x1="745.1" y1="370.0" x2="749.9" y2="374.0" stroke-width="1.0" />
<path d="M736.1,374.6 L740.7,375.4 L736.3,378.0 L740.9,378.6 Z" stroke-width="1.0" fill="none" />
<line x1="736.1" y1="374.6" x2="740.9" y2="378.6" stroke-width="1.0" />
<path d="M726.9,380.1 L731.5,380.9 L727.1,383.5 L731.7,384.1 Z" stroke-width="1.0" fill="none" />
<line x1="726.9" y1="380.1" x2="731.7" y2="384.1" stroke-width="1.0" />
<path d="M717.7,385.3 L722.3,386.1 L717.9,388.7 L722.5,389.3 Z" stroke-width="1.0" fill="none" />
<line x1="717.7" y1="385.3" x2="722.5" y2="389.3" stroke-width="1.0" />
<path d="M734.1,384.4 L738.7,385.2 L734.3,387.8 L738.9,388.4 Z" stroke-width="1.0" fill="none" />
<line x1="734.1" y1="384.4" x2="738.9" y2="388.4" stroke-width="1.0" />
<path d="M725.5,389.6 L730.1,390.4 L725.7,393.0 L730.3,393.6 Z" stroke-width="1.0" fill="none" />
<line x1="725.5" y1="389.6" x2="730.3" y2="393.6" stroke-width="1.0" />
<path d="M741.9,388.2 L746.5,389.0 L742.1,391.6 L746.7,392.2 Z" stroke-width="1.0" fill="none" />
<line x1="741.9" y1="388.2" x2="746.7" y2="392.2" stroke-width="1.0" />
<path d="M732.7,393.9 L737.3,394.7 L732.9,397.3 L737.5,397.9 Z" stroke-width="1.0" fill="none" />
<line x1="732.7" y1="393.9" x2="737.5" y2="397.9" stroke-width="1.0" />
<path d="M750.9,383.2 L755.5,384.0 L751.1,386.6 L755.7,387.2 Z" stroke-width="1.0" fill="none" />
<line x1="750.9" y1="383.2" x2="755.7" y2="387.2" stroke-width="1.0" />
<path d="M760.1,378.6 L764.7,379.4 L760.3,382.0 L764.9,382.6 Z" stroke-width="1.0" fill="none" />
<line x1="760.1" y1="378.6" x2="764.9" y2="382.6" stroke-width="1.0" />
<path d="M681.6,406.0 L686.2,406.8 L681.8,409.4 L686.4,410.0 Z" stroke-width="1.0" fill="none" />
<line x1="681.6" y1="406.0" x2="686.4" y2="410.0" stroke-width="1.0" />
<path d="M690.8,401.1 L695.4,401.9 L691.0,404.5 L695.6,405.1 Z" stroke-width="1.0" fill="none" />
<line x1="690.8" y1="401.1" x2="695.6" y2="405.1" stroke-width="1.0" />
<path d="M700.1,395.9 L704.7,396.7 L700.3,399.3 L704.9,399.9 Z" stroke-width="1.0" fill="none" />
<line x1="700.1" y1="395.9" x2="704.9" y2="399.9" stroke-width="1.0" />
<path d="M707.3,400.3 L711.9,401.1 L707.5,403.7 L712.1,404.3 Z" stroke-width="1.0" fill="none" />
<line x1="707.3" y1="400.3" x2="712.1" y2="404.3" stroke-width="1.0" />
<path d="M714.8,404.6 L719.4,405.4 L715.0,408.0 L719.6,408.6 Z" stroke-width="1.0" fill="none" />
<line x1="714.8" y1="404.6" x2="719.6" y2="408.6" stroke-width="1.0" />
<path d="M705.3,409.8 L709.9,410.6 L705.5,413.2 L710.1,413.8 Z" stroke-width="1.0" fill="none" />
<line x1="705.3" y1="409.8" x2="710.1" y2="413.8" stroke-width="1.0" />
<path d="M696.6,414.7 L701.2,415.5 L696.8,418.1 L701.4,418.7 Z" stroke-width="1.0" fill="none" />
<line x1="696.6" y1="414.7" x2="701.4" y2="418.7" stroke-width="1.0" />
<ellipse cx="551.8" cy="326.6" rx="1.9" ry="1.3" fill="#000" stroke="none"/>
<ellipse cx="685.2" cy="341.0" rx="1.9" ry="1.3" fill="#000" stroke="none"/>
<ellipse cx="631.2" cy="372.7" rx="1.9" ry="1.3" fill="#000" stroke="none"/>
<ellipse cx="750.4" cy="379.1" rx="1.9" ry="1.3" fill="#000" stroke="none"/>
<ellipse cx="696.1" cy="409.7" rx="1.9" ry="1.3" fill="#000" stroke="none"/>
<text x="525.3" y="288.2" font-size="15.5" text-anchor="middle" stroke="none" fill="#000">2</text>
<line x1="530.2" y1="291.2" x2="547.7" y2="308.8" stroke-width="1.1" />
<path d="M713.7,265.8 L809.5,319.8 Q811.3,321 811.3,323 L811.3,332 Q811.3,333.5 810,334.5 L783,350.3 L700.5,302 Q699.5,300.8 700.8,299.8 L704,298" stroke-width="1.5" fill="#fff" />
<path d="M713.7,265.8 L713.7,276.3" stroke-width="1.3" fill="none" />
<path d="M713.7,276.3 L806.0,329.3" stroke-width="1.1" fill="none" />
<path d="M701.5,299.5 L783.0,346.8 L811.0,330.5" stroke-width="1.0" fill="none" />
<path d="M712.0,277.5 L704.0,281.8" stroke-width="1.0" fill="none" />
<path d="M690.2,283.7 Q688.6,284.6 688.6,286.4 L688.6,287.2 Q688.6,289.0 690.2,289.9 L700.2,295.7 Q701.8,296.6 703.4,295.7 L713.4,289.9 Q715.0,289.0 715.0,287.2 L715.0,286.4 Q715.0,284.6 713.4,283.7 L703.4,277.9 Q701.8,277.0 700.2,277.9 Z" stroke-width="1.5" fill="#fff" />
<path d="M690.2,283.7 Q688.6,284.6 690.2,285.5 L700.2,291.3 Q701.8,292.2 703.4,291.3 L713.4,285.5 Q715.0,284.6 713.4,283.7 L703.4,277.9 Q701.8,277.0 700.2,277.9 Z" stroke-width="1.2" fill="#fff" />
<line x1="701.8" y1="293.2" x2="701.8" y2="296.6" stroke-width="0.9" />
<ellipse cx="692.8" cy="284.6" rx="1.4" ry="0.9" fill="none" stroke-width="0.8"/>
<ellipse cx="710.8" cy="284.6" rx="1.4" ry="0.9" fill="none" stroke-width="0.8"/>
<ellipse cx="701.8" cy="289.8" rx="1.4" ry="0.9" fill="none" stroke-width="0.8"/>
<ellipse cx="701.8" cy="279.4" rx="1.4" ry="0.9" fill="none" stroke-width="0.8"/>
<path d="M773.3,330.9 Q771.7,331.8 771.7,333.6 L771.7,334.4 Q771.7,336.2 773.3,337.1 L782.8,342.6 Q784.4,343.5 786.0,342.6 L795.5,337.1 Q797.1,336.2 797.1,334.4 L797.1,333.6 Q797.1,331.8 795.5,330.9 L786.0,325.4 Q784.4,324.5 782.8,325.4 Z" stroke-width="1.5" fill="#fff" />
<path d="M773.3,330.9 Q771.7,331.8 773.3,332.7 L782.8,338.2 Q784.4,339.1 786.0,338.2 L795.5,332.7 Q797.1,331.8 795.5,330.9 L786.0,325.4 Q784.4,324.5 782.8,325.4 Z" stroke-width="1.2" fill="#fff" />
<line x1="784.4" y1="340.1" x2="784.4" y2="343.5" stroke-width="0.9" />
<ellipse cx="775.8" cy="331.8" rx="1.4" ry="0.9" fill="none" stroke-width="0.8"/>
<ellipse cx="793.0" cy="331.8" rx="1.4" ry="0.9" fill="none" stroke-width="0.8"/>
<ellipse cx="784.4" cy="336.8" rx="1.4" ry="0.9" fill="none" stroke-width="0.8"/>
<ellipse cx="784.4" cy="326.8" rx="1.4" ry="0.9" fill="none" stroke-width="0.8"/>
<path d="M702.0,183.4 L779.6,225.2 L779.6,234.5 L702.0,190.4 Z" stroke-width="1.5" fill="#fff" />
<path d="M701.8,281 L701.8,97 Q701.8,82 715,89.6 L770,121.4 Q784.6,129.8 784.6,146 L784.6,329" stroke="#000" stroke-width="9.950000000000001" fill="none" stroke-linecap="butt"/>
<path d="M701.8,281 L701.8,97 Q701.8,82 715,89.6 L770,121.4 Q784.6,129.8 784.6,146 L784.6,329" stroke="#fff" stroke-width="6.65" fill="none" stroke-linecap="butt"/>
<path d="M700.4,187.5 L706.3,183.2 L709.5,184.9 L709.5,194.4 L706.3,192.6 L700.6,189.3 Z" fill="#fff" stroke="none"/>
<path d="M709.5,187.4 L702.5,183.6 L700.2,186.8 Q699.2,188.2 700.6,189.3 L709.5,194.5" stroke-width="1.4" fill="none" />
<path d="M697.6,259.9 A4.2,1.6 0 0 0 705.9,259.9" stroke-width="1.2" fill="none" />
<path d="M697.6,279.0 Q697.6,282.5 695.9,283.5 A6.0,2.6 0 0 0 707.7,283.5 Q705.9,282.5 705.9,279.0" stroke-width="1.3" fill="#fff" />
<path d="M697.6,280.0 A4.2,1.6 0 0 0 705.9,280.0" stroke-width="0.8" fill="none" />
<path d="M780.5,308.5 A4.2,1.6 0 0 0 788.8,308.5" stroke-width="1.2" fill="none" />
<path d="M780.5,326.5 Q780.5,330.0 778.7,331.0 A6.0,2.6 0 0 0 790.5,331.0 Q788.8,330.0 788.8,326.5" stroke-width="1.3" fill="#fff" />
<path d="M780.5,327.5 A4.2,1.6 0 0 0 788.8,327.5" stroke-width="0.8" fill="none" />
<rect x="689.9" y="246.7" width="5.8" height="3.6" rx="1.3" fill="#666" stroke-width="1.2"/>
<rect x="691.1" y="250.3" width="3.4" height="8.6" fill="#999" stroke-width="1.1"/>
<ellipse cx="692.8" cy="263.7" rx="3.7" ry="2.2" fill="#000" stroke="none"/>
<line x1="692.8" y1="266.0" x2="692.8" y2="284.0" stroke-width="1.0" />
<text x="661.8" y="156.2" font-size="15.5" text-anchor="middle" stroke="none" fill="#000">8</text>
<line x1="670.9" y1="151.5" x2="696.3" y2="157.0" stroke-width="1.1" />
<text x="664.4" y="250.5" font-size="15.5" text-anchor="middle" stroke="none" fill="#000">6</text>
<line x1="672.5" y1="245.5" x2="689.3" y2="248.3" stroke-width="1.1" />
<text x="664.4" y="275.2" font-size="15.5" text-anchor="middle" stroke="none" fill="#000">5</text>
<line x1="672.5" y1="268.2" x2="689.0" y2="264.0" stroke-width="1.1" />
<path d="M825.7,331.5 L926,389 Q927.5,390 927.5,392 L927.5,398 Q927.5,399.5 926.3,400.3 L905,413 L889,404 L898.8,396 Q899.5,386 889,380 Q869,368.5 846,373.5 Q838,375.5 833.1,380.5 L798,360.3 Q796.8,359 798,358 L806,353.2" stroke-width="1.5" fill="#fff" />
<line x1="825.7" y1="331.5" x2="825.7" y2="340.0" stroke-width="1.2" />
<line x1="825.7" y1="340.0" x2="901.0" y2="383.5" stroke-width="1.1" />
<path d="M808.4,350.3 Q806.8,351.2 806.8,353.0 L806.8,353.8 Q806.8,355.6 808.4,356.5 L818.2,362.2 Q819.8,363.1 821.4,362.2 L831.2,356.5 Q832.8,355.6 832.8,353.8 L832.8,353.0 Q832.8,351.2 831.2,350.3 L821.4,344.6 Q819.8,343.7 818.2,344.6 Z" stroke-width="1.5" fill="#fff" />
<path d="M808.4,350.3 Q806.8,351.2 808.4,352.1 L818.2,357.8 Q819.8,358.7 821.4,357.8 L831.2,352.1 Q832.8,351.2 831.2,350.3 L821.4,344.6 Q819.8,343.7 818.2,344.6 Z" stroke-width="1.2" fill="#fff" />
<line x1="819.8" y1="359.7" x2="819.8" y2="363.1" stroke-width="0.9" />
<ellipse cx="811.0" cy="351.2" rx="1.4" ry="0.9" fill="none" stroke-width="0.8"/>
<ellipse cx="828.6" cy="351.2" rx="1.4" ry="0.9" fill="none" stroke-width="0.8"/>
<ellipse cx="819.8" cy="356.3" rx="1.4" ry="0.9" fill="none" stroke-width="0.8"/>
<ellipse cx="819.8" cy="346.1" rx="1.4" ry="0.9" fill="none" stroke-width="0.8"/>
<path d="M892.5,402.4 Q891.0,403.3 891.0,405.1 L891.0,405.9 Q891.0,407.7 892.5,408.6 L905.0,415.8 Q906.6,416.7 908.1,415.8 L917.5,410.4 Q919.0,409.5 919.0,407.7 L919.0,406.9 Q919.0,405.1 917.5,404.2 L905.0,397.0 Q903.4,396.1 901.9,397.0 Z" stroke-width="1.5" fill="#fff" />
<path d="M892.5,402.4 Q891.0,403.3 892.5,404.2 L905.0,411.4 Q906.6,412.3 908.1,411.4 L917.5,406.0 Q919.0,405.1 917.5,404.2 L905.0,397.0 Q903.4,396.1 901.9,397.0 Z" stroke-width="1.2" fill="#fff" />
<line x1="906.6" y1="413.3" x2="906.6" y2="416.7" stroke-width="0.9" />
<ellipse cx="895.5" cy="403.6" rx="1.4" ry="0.9" fill="none" stroke-width="0.8"/>
<ellipse cx="914.5" cy="404.8" rx="1.4" ry="0.9" fill="none" stroke-width="0.8"/>
<ellipse cx="906.1" cy="409.7" rx="1.4" ry="0.9" fill="none" stroke-width="0.8"/>
<ellipse cx="903.9" cy="398.7" rx="1.4" ry="0.9" fill="none" stroke-width="0.8"/>
<path d="M819.6,250.8 L902.5,292.5 L902.5,303.3 L819.6,256.8 Z" stroke-width="1.5" fill="#fff" />
<path d="M819.4,350 L819.4,162.5 Q819.4,147.5 832.5,155.1 L893,190.1 Q907.5,198.5 907.5,214.5 L907.5,402" stroke="#000" stroke-width="9.950000000000001" fill="none" stroke-linecap="butt"/>
<path d="M819.4,350 L819.4,162.5 Q819.4,147.5 832.5,155.1 L893,190.1 Q907.5,198.5 907.5,214.5 L907.5,402" stroke="#fff" stroke-width="6.65" fill="none" stroke-linecap="butt"/>
<path d="M818,254.9 L823.9,250.6 L827.1,252.3 L827.1,261.2 L823.9,259.6 L818.2,256.7 Z" fill="#fff" stroke="none"/>
<path d="M827.1,254.6 L820.1,251 L817.8,254.2 Q816.8,255.6 818.2,256.7 L827.1,261.2" stroke-width="1.4" fill="none" />
<path d="M815.2,327.0 A4.2,1.6 0 0 0 823.5,327.0" stroke-width="1.2" fill="none" />
<path d="M815.2,346.0 Q815.2,349.5 813.5,350.5 A6.0,2.6 0 0 0 825.3,350.5 Q823.5,349.5 823.5,346.0" stroke-width="1.3" fill="#fff" />
<path d="M815.2,347.0 A4.2,1.6 0 0 0 823.5,347.0" stroke-width="0.8" fill="none" />
<path d="M903.4,376.9 A4.2,1.6 0 0 0 911.6,376.9" stroke-width="1.2" fill="none" />
<path d="M903.4,399.0 Q903.4,402.5 901.6,403.5 A6.0,2.6 0 0 0 913.4,403.5 Q911.6,402.5 911.6,399.0" stroke-width="1.3" fill="#fff" />
<path d="M903.4,400.0 A4.2,1.6 0 0 0 911.6,400.0" stroke-width="0.8" fill="none" />
<rect x="913.2" y="350.0" width="5.8" height="3.6" rx="1.3" fill="#666" stroke-width="1.2"/>
<rect x="914.4" y="353.6" width="3.4" height="8.6" fill="#999" stroke-width="1.1"/>
<ellipse cx="916.1" cy="367.3" rx="3.7" ry="2.2" fill="#000" stroke="none"/>
<text x="944.2" y="270.9" font-size="15.5" text-anchor="middle" stroke="none" fill="#000">9</text>
<line x1="934.6" y1="267.3" x2="912.4" y2="273.9" stroke-width="1.1" />
<text x="944.5" y="352.8" font-size="15.5" text-anchor="middle" stroke="none" fill="#000">6</text>
<line x1="936.1" y1="348.8" x2="919.7" y2="351.6" stroke-width="1.1" />
<text x="944.5" y="376.9" font-size="15.5" text-anchor="middle" stroke="none" fill="#000">5</text>
<line x1="936.1" y1="369.7" x2="920.0" y2="367.5" stroke-width="1.1" />
<ellipse cx="855.5" cy="330.0" rx="4.1" ry="3.69" fill="#000" stroke="none"/>
<path d="M853.5,332.5 L857.5,332.5 L856.7,335.5 L854.3,335.5 Z" fill="#000" stroke="none"/>
<ellipse cx="855.3" cy="329.4" rx="1.7" ry="1.5" fill="#777" stroke="none"/>
<line x1="855.5" y1="335.0" x2="855.5" y2="364.3" stroke-width="1.0" />
<ellipse cx="855.5" cy="365.0" rx="1.6" ry="0.8" fill="#000" stroke="none"/>
<text x="882.4" y="331.8" font-size="15.5" text-anchor="middle" stroke="none" fill="#000">3</text>
<line x1="874.9" y1="327.0" x2="860.0" y2="330.0" stroke-width="1.1" />
<path d="M834.6,87.8 L864.5,77.9 L868.4,75.5 L868.4,86.2 L938.2,127.2 L938.2,157.9 L934.0,160.2 L864.5,121.2 L864.5,131.6 Z" stroke-width="1.6" fill="#fff" />
<path d="M864.5,77.9 L864.5,88.4 L934.0,129.3 L934.0,160.0" stroke-width="1.4" fill="none" />
<path d="M934.0,129.3 L938.2,127.2" stroke-width="1.2" fill="none" />
<path d="M864.5,88.4 L868.4,86.2" stroke-width="1.2" fill="none" />
<path d="M864.5,121.2 L864.5,131.6" stroke-width="1.4" fill="none" />
<path d="M864.5,121.2 L868.6,123.6 L868.6,129.3 L864.5,131.6" stroke-width="1.3" fill="none" />
<text transform="matrix(1,0.578,0,1,860.8,111.9)" x="0" y="0" font-size="20" stroke="none" fill="#000">FRONT</text>
<path d="M606.4,986.3 L619.7,966.6 L632.2,959.4 L644.8,966.6 L644.8,975.5 L631.2,995.2 L631.2,1149.5 L623.3,1154.5 L606.4,1144.8 Z" stroke-width="1.6" fill="#fff" />
<path d="M619.7,966.6 L632.5,974.0 L644.8,966.6" stroke-width="1.1" fill="none" />
<path d="M632.5,974.0 L623.3,992.0 L623.3,1154.0" stroke-width="1.3" fill="none" />
<line x1="606.4" y1="986.3" x2="606.4" y2="1144.0" stroke-width="1.6" />
<ellipse cx="615.2" cy="1011.8" rx="1.8" ry="2.3" fill="#000" stroke="none"/>
<ellipse cx="615.2" cy="1025.0" rx="1.8" ry="2.3" fill="#000" stroke="none"/>
<ellipse cx="615.2" cy="1105.5" rx="1.8" ry="2.3" fill="#000" stroke="none"/>
<ellipse cx="615.2" cy="1119.0" rx="1.8" ry="2.3" fill="#000" stroke="none"/>
<ellipse cx="617.8" cy="997.5" rx="1.3" ry="1.3" fill="#000" stroke="none"/>
<path d="M215.2,720.3 L623.3,957.4 L632.0,962.5 L619.7,968.4 L210.8,734.6 L204.9,728.7 Z" stroke-width="1.3" fill="#fff" />
<line x1="210.8" y1="734.6" x2="619.7" y2="968.4" stroke-width="2.4" />
<line x1="236.0" y1="738.4" x2="620.5" y2="961.8" stroke-width="0.9" />
<line x1="215.2" y1="720.3" x2="623.3" y2="957.4" stroke-width="1.4" />
<ellipse cx="253.5" cy="745.4" rx="1.7" ry="1.1" fill="#000" stroke="none"/>
<ellipse cx="471.0" cy="871.7" rx="1.7" ry="1.1" fill="#000" stroke="none"/>
<ellipse cx="543.5" cy="913.8" rx="1.7" ry="1.1" fill="#000" stroke="none"/>
<ellipse cx="616.0" cy="956.0" rx="1.7" ry="1.1" fill="#000" stroke="none"/>
<path d="M183.4,743.6 L198.9,717.9 L204.9,714.3 L212.0,717.8 L213.5,722.0 L204.9,728.7 L210.8,734.6 L199.5,752.5 L199.5,906.0 L183.4,906.0 Z" stroke-width="1.5" fill="#fff" />
<line x1="183.4" y1="743.6" x2="183.4" y2="897.0" stroke-width="1.7" />
<line x1="183.4" y1="743.6" x2="199.5" y2="752.5" stroke-width="0.9" />
<path d="M198.9,717.9 L205.5,721.5" stroke-width="1.0" fill="none" />
<path d="M216.2,739.4 L203.1,759.1 L203.1,764.5 L208.4,764.5 L208.4,820 L204.3,822.5 L204.3,828.5 L208.4,831 L208.4,880 L204.3,882.5 L204.3,890 L208.4,892.5 L208.4,901" stroke-width="1.3" fill="none" />
<ellipse cx="190.5" cy="766.0" rx="1.7" ry="2.4" fill="#000" stroke="none"/>
<ellipse cx="190.5" cy="779.0" rx="1.7" ry="2.4" fill="#000" stroke="none"/>
<ellipse cx="190.5" cy="861.0" rx="1.7" ry="2.4" fill="#000" stroke="none"/>
<ellipse cx="190.5" cy="875.0" rx="1.7" ry="2.4" fill="#000" stroke="none"/>
<ellipse cx="188.3" cy="750.0" rx="1.2" ry="1.4" fill="#000" stroke="none"/>
<path d="M180.7,893.9 L199.5,904.7 L209.4,902.2 L606.0,1129.1 L623.3,1152.8 L623.3,1155.0 L180.7,900.8 Z" stroke-width="0.01" fill="#fff" />
<line x1="180.7" y1="899.8" x2="623.3" y2="1153.0" stroke-width="2.4" />
<line x1="181.9" y1="894.6" x2="621.0" y2="1145.8" stroke-width="1.5" />
<line x1="209.4" y1="905.4" x2="612.0" y2="1135.7" stroke-width="1.3" />
<line x1="216.0" y1="906.0" x2="606.0" y2="1129.1" stroke-width="0.9" />
<line x1="180.7" y1="894.6" x2="180.7" y2="899.8" stroke-width="1.4" />
<ellipse cx="463.0" cy="1049.0" rx="1.4" ry="0.9" fill="#000" stroke="none"/>
<path d="M203,901.5 L207,899.3 Q210,899 212.5,900.5 L214.5,902 Q215,904 213,905.3 L210.5,906.5" stroke-width="1.1" fill="#fff" />
<path d="M392.2,866.3 L403.0,844.8 L424.5,855.5 L422.7,860.0 L422.7,1029.3 L413.0,1025.7 L392.2,1014.9 Z" stroke-width="1.5" fill="#fff" />
<path d="M424.5,855.5 L413.0,877.0 L413.0,1025.7" stroke-width="1.4" fill="none" />
<line x1="392.2" y1="866.3" x2="413.0" y2="877.0" stroke-width="1.1" />
<line x1="403.0" y1="842.5" x2="403.0" y2="845.5" stroke-width="1.3" />
<line x1="424.5" y1="853.0" x2="424.5" y2="856.0" stroke-width="1.3" />
<ellipse cx="395.5" cy="870.0" rx="0.9" ry="0.9" fill="#000" stroke="none"/>
<ellipse cx="409.5" cy="877.0" rx="0.9" ry="0.9" fill="#000" stroke="none"/>
<ellipse cx="396.0" cy="986.0" rx="0.9" ry="0.9" fill="#000" stroke="none"/>
<ellipse cx="409.5" cy="994.5" rx="0.9" ry="0.9" fill="#000" stroke="none"/>
<ellipse cx="396.0" cy="1003.0" rx="0.9" ry="0.9" fill="#000" stroke="none"/>
<ellipse cx="409.5" cy="1010.5" rx="0.9" ry="0.9" fill="#000" stroke="none"/>
<path d="M392.2,931.0 L385.0,931.5 L382.2,934.0 L382.2,949.5 L392.2,954.5" stroke-width="1.3" fill="#fff" />
<line x1="385.0" y1="931.5" x2="385.0" y2="951.0" stroke-width="1.0" />
<ellipse cx="387.5" cy="937.0" rx="1.2" ry="1.4" fill="#000" stroke="none"/>
<ellipse cx="387.5" cy="944.5" rx="1.2" ry="1.4" fill="#000" stroke="none"/>
<path d="M413.7,947.0 L422.7,947.0 L431.8,951.5 L431.8,967.5 L424.0,971.8 L413.7,966.5 Z" stroke-width="1.3" fill="#fff" />
<path d="M422.7,947.0 L422.7,966.0 L431.8,967.5" stroke-width="1.0" fill="none" />
<line x1="413.7" y1="951.0" x2="422.7" y2="955.0" stroke-width="1.0" />
<ellipse cx="427.5" cy="957.0" rx="1.2" ry="1.5" fill="#000" stroke="none"/>
<ellipse cx="427.5" cy="964.0" rx="1.2" ry="1.5" fill="#000" stroke="none"/>
<path d="M272.5,752.3 Q270.8,750.8 272.3,749.3 L275.5,746.7 Q277.5,746 279.5,747 L333.2,780.3 Q335,781.8 334.5,783.5 L331.3,786 Z" stroke-width="1.3" fill="#fff" />
<ellipse cx="283.2" cy="753.6" rx="2.2" ry="1.3" stroke-width="0.9" fill="none"/>
<ellipse cx="326.5" cy="779.3" rx="1.9" ry="1.2" fill="#000" stroke="none"/>
<path d="M218.9,725.1 Q217.3,726.0 217.3,727.4 L217.3,727.4 Q217.3,728.8 218.9,729.7 L231.7,737.1 Q233.3,738.0 234.8,737.1 L240.7,733.7 Q242.3,732.8 242.3,731.4 L242.3,731.4 Q242.3,730.0 240.7,729.1 L227.9,721.7 Q226.3,720.8 224.8,721.7 Z" stroke-width="1.5" fill="#fff" />
<path d="M218.9,725.1 Q217.3,726.0 218.9,726.9 L231.7,734.3 Q233.3,735.2 234.8,734.3 L240.7,730.9 Q242.3,730.0 240.7,729.1 L227.9,721.7 Q226.3,720.8 224.8,721.7 Z" stroke-width="1.2" fill="#fff" />
<line x1="233.3" y1="736.2" x2="233.3" y2="738.0" stroke-width="0.9" />
<ellipse cx="221.3" cy="726.6" rx="1.4" ry="0.9" fill="none" stroke-width="0.8"/>
<ellipse cx="238.3" cy="729.4" rx="1.4" ry="0.9" fill="none" stroke-width="0.8"/>
<ellipse cx="232.2" cy="732.9" rx="1.4" ry="0.9" fill="none" stroke-width="0.8"/>
<ellipse cx="227.4" cy="723.1" rx="1.4" ry="0.9" fill="none" stroke-width="0.8"/>
<path d="M362.8,806.9 Q361.2,807.8 361.2,809.2 L361.2,809.2 Q361.2,810.6 362.8,811.5 L375.6,818.9 Q377.2,819.8 378.7,818.9 L384.6,815.5 Q386.2,814.6 386.2,813.2 L386.2,813.2 Q386.2,811.8 384.6,810.9 L371.8,803.5 Q370.2,802.6 368.7,803.5 Z" stroke-width="1.5" fill="#fff" />
<path d="M362.8,806.9 Q361.2,807.8 362.8,808.7 L375.6,816.1 Q377.2,817.0 378.7,816.1 L384.6,812.7 Q386.2,811.8 384.6,810.9 L371.8,803.5 Q370.2,802.6 368.7,803.5 Z" stroke-width="1.2" fill="#fff" />
<line x1="377.2" y1="818.0" x2="377.2" y2="819.8" stroke-width="0.9" />
<ellipse cx="365.2" cy="808.4" rx="1.4" ry="0.9" fill="none" stroke-width="0.8"/>
<ellipse cx="382.2" cy="811.2" rx="1.4" ry="0.9" fill="none" stroke-width="0.8"/>
<ellipse cx="376.1" cy="814.7" rx="1.4" ry="0.9" fill="none" stroke-width="0.8"/>
<ellipse cx="371.3" cy="804.9" rx="1.4" ry="0.9" fill="none" stroke-width="0.8"/>
<path d="M385,815.5 L390.5,812.5 M391,818 Q393,820.5 395.5,818.5" stroke-width="1.0" fill="none" />
<path d="M396.0,820.0 L415.5,831.0 L443.0,846.5 L443.0,851.5" stroke-width="1.2" fill="none" />
<path d="M417.0,832.0 L424.5,828.0 L443.0,838.5 L443.0,846.5" stroke-width="1.2" fill="none" />
<ellipse cx="214.5" cy="714.6" rx="1.6" ry="1.0" fill="#000" stroke="none"/>
<path d="M46.6,836.8 L266.9,965.1 Q256,972 251.5,985 Q248,999 247.6,1015 L247.3,1039 L249.4,1149.6 L26.9,1022.4 Q24.5,980 26.2,920 L28.5,913.5 L26.5,908 Q25,880 29.5,862 Q34,845 46.6,836.8 Z" stroke-width="1.6" fill="#fff" />
<line x1="30.4" y1="911.6" x2="247.2" y2="1035.9" stroke-width="1.1" />
<line x1="30.4" y1="915.2" x2="247.2" y2="1039.5" stroke-width="0.8" />
<path d="M267.8,966.6 L490.6,1094.4 Q481,1101 477.5,1114 Q474.2,1130 473.6,1160.5 L477.5,1168.5 Q476.5,1171 475.8,1176 Q474,1230 475.8,1278.5 L249.4,1150.7 L247.4,1041.5 L249.6,1037.5 L247.6,1033 Q247.6,1008 251,990 Q255,975 267.8,966.6 Z" stroke-width="1.6" fill="#fff" />
<path d="M270.5,968.3 Q257,977 253,998 Q250.5,1018 250.6,1034 L252.6,1039.5 L250.5,1044.5 Q249.5,1100 251.8,1151" stroke-width="1.0" fill="none" />
<path d="M487.5,1096 Q478,1103 474.8,1117 Q471.8,1132 471.2,1161 L474.8,1169 Q472,1230 473.5,1276.5" stroke-width="1.0" fill="none" />
<line x1="254.9" y1="1042.0" x2="466.6" y2="1163.5" stroke-width="1.1" />
<line x1="254.9" y1="1045.6" x2="466.6" y2="1167.1" stroke-width="0.8" />
<rect x="285.1" y="1007.0" width="5.1" height="24.4" rx="2.55" stroke-width="1.5" fill="#fff" transform="rotate(21 287.6 1019.2)"/>
<rect x="292.9" y="1011.5" width="5.1" height="24.4" rx="2.55" stroke-width="1.5" fill="#fff" transform="rotate(21 295.5 1023.8)"/>
<rect x="300.8" y="1016.1" width="5.1" height="24.4" rx="2.55" stroke-width="1.5" fill="#fff" transform="rotate(21 303.3 1028.3)"/>
<rect x="308.6" y="1020.7" width="5.1" height="24.4" rx="2.55" stroke-width="1.5" fill="#fff" transform="rotate(21 311.2 1032.9)"/>
<rect x="316.5" y="1025.2" width="5.1" height="24.4" rx="2.55" stroke-width="1.5" fill="#fff" transform="rotate(21 319.0 1037.4)"/>
<rect x="324.4" y="1029.8" width="5.1" height="24.4" rx="2.55" stroke-width="1.5" fill="#fff" transform="rotate(21 326.9 1042.0)"/>
<rect x="332.2" y="1034.3" width="5.1" height="24.4" rx="2.55" stroke-width="1.5" fill="#fff" transform="rotate(21 334.8 1046.5)"/>
<rect x="340.1" y="1038.8" width="5.1" height="24.4" rx="2.55" stroke-width="1.5" fill="#fff" transform="rotate(21 342.6 1051.0)"/>
<rect x="347.9" y="1043.4" width="5.1" height="24.4" rx="2.55" stroke-width="1.5" fill="#fff" transform="rotate(21 350.5 1055.6)"/>
<rect x="355.8" y="1048.0" width="5.1" height="24.4" rx="2.55" stroke-width="1.5" fill="#fff" transform="rotate(21 358.3 1060.2)"/>
<rect x="363.7" y="1052.5" width="5.1" height="24.4" rx="2.55" stroke-width="1.5" fill="#fff" transform="rotate(21 366.2 1064.7)"/>
<rect x="371.5" y="1057.0" width="5.1" height="24.4" rx="2.55" stroke-width="1.5" fill="#fff" transform="rotate(21 374.1 1069.2)"/>
<rect x="379.4" y="1061.6" width="5.1" height="24.4" rx="2.55" stroke-width="1.5" fill="#fff" transform="rotate(21 381.9 1073.8)"/>
<rect x="387.2" y="1066.2" width="5.1" height="24.4" rx="2.55" stroke-width="1.5" fill="#fff" transform="rotate(21 389.8 1078.4)"/>
<rect x="395.1" y="1070.7" width="5.1" height="24.4" rx="2.55" stroke-width="1.5" fill="#fff" transform="rotate(21 397.6 1082.9)"/>
<rect x="402.9" y="1075.2" width="5.1" height="24.4" rx="2.55" stroke-width="1.5" fill="#fff" transform="rotate(21 405.5 1087.5)"/>
<rect x="410.8" y="1079.8" width="5.1" height="24.4" rx="2.55" stroke-width="1.5" fill="#fff" transform="rotate(21 413.4 1092.0)"/>
<rect x="418.7" y="1084.3" width="5.1" height="24.4" rx="2.55" stroke-width="1.5" fill="#fff" transform="rotate(21 421.2 1096.5)"/>
<rect x="426.5" y="1088.9" width="5.1" height="24.4" rx="2.55" stroke-width="1.5" fill="#fff" transform="rotate(21 429.1 1101.1)"/>
<rect x="434.4" y="1093.5" width="5.1" height="24.4" rx="2.55" stroke-width="1.5" fill="#fff" transform="rotate(21 436.9 1105.7)"/>
<path d="M194.2,1035.5 L229.2,1055.3 L229.2,1081.0 L194.2,1061.2 Z" stroke-width="2.2" fill="#fff" />
<path d="M197.7,1041.0 L225.7,1056.8 L225.7,1075.5 L197.7,1059.7 Z" stroke-width="1.0" fill="none" />
<path d="M202.2,1046.5 L222.2,1057.8 L222.2,1070.0 L202.2,1058.7 Z" stroke-width="1.3" fill="none" />
<ellipse cx="212.7" cy="1055.1" rx="2.6" ry="3.0" stroke-width="1.3" fill="#fff"/>
<path d="M267.8,1077.8 L302.8,1097.6 L302.8,1123.3 L267.8,1103.5 Z" stroke-width="2.2" fill="#fff" />
<path d="M271.3,1083.3 L299.3,1099.1 L299.3,1117.8 L271.3,1102.0 Z" stroke-width="1.0" fill="none" />
<path d="M275.8,1088.8 L295.8,1100.1 L295.8,1112.3 L275.8,1101.0 Z" stroke-width="1.3" fill="none" />
<ellipse cx="286.3" cy="1097.4" rx="2.6" ry="3.0" stroke-width="1.3" fill="#fff"/>
<path d="M290.0,1107.0 L295.5,1110.0 L295.5,1100.5" stroke-width="1.0" fill="none" />
<line x1="188.0" y1="1065.5" x2="212.6" y2="1054.2" stroke-width="1.0" />
<line x1="188.4" y1="1067.7" x2="212.6" y2="1056.4" stroke-width="1.0" />
<line x1="183.4" y1="1068.8" x2="187.6" y2="1066.8" stroke="#000" stroke-width="6.2" stroke-linecap="round"/>
<line x1="184.8" y1="1068.3" x2="187.8" y2="1066.9" stroke="#888" stroke-width="2.0" stroke-linecap="round"/>
<line x1="260.9" y1="1107.8" x2="286.0" y2="1096.2" stroke-width="1.0" />
<line x1="261.3" y1="1110.0" x2="286.0" y2="1098.4" stroke-width="1.0" />
<line x1="256.3" y1="1111.1" x2="260.5" y2="1109.1" stroke="#000" stroke-width="6.2" stroke-linecap="round"/>
<line x1="257.7" y1="1110.6" x2="260.7" y2="1109.2" stroke="#888" stroke-width="2.0" stroke-linecap="round"/>
<text x="196.0" y="1101.7" font-size="15.5" text-anchor="middle" stroke="none" fill="#000">4</text>
<line x1="192.4" y1="1086.9" x2="186.5" y2="1072.7" stroke-width="1.1" />
<text x="268.6" y="1143.3" font-size="15.5" text-anchor="middle" stroke="none" fill="#000">4</text>
<line x1="264.9" y1="1130.5" x2="259.5" y2="1114.8" stroke-width="1.1" />
<text x="658.5" y="1119.1" font-size="15.5" text-anchor="middle" stroke="none" fill="#000">1-1</text>
<text x="703.2" y="1218.4" font-size="15.5" text-anchor="middle" stroke="none" fill="#000">1</text>
<line x1="632.2" y1="1113.4" x2="646.0" y2="1113.4" stroke-width="1.1" />
<line x1="671.0" y1="1113.4" x2="681.7" y2="1113.4" stroke-width="1.1" />
<line x1="681.7" y1="1113.4" x2="681.7" y2="1212.7" stroke-width="1.1" />
<line x1="476.4" y1="1212.7" x2="694.9" y2="1212.7" stroke-width="1.1" />
<path d="M310.4,753.7 Q317.4,753.0 320.9,749.3 L334.4,753.0 L342.7,755.9 L342.7,761.3 Q346.5,772.3 354.1,781.1 L310.8,757.0 Z" stroke-width="1.3" fill="#fff" />
<path d="M354.1,781.1 L380.0,767.5 L380.0,761.3" stroke-width="1.3" fill="none" />
<path d="M373.4,739.5 Q373.8,750.4 380.0,759.2" stroke-width="1.3" fill="none" />
<path d="M357.4,750.4 L380.0,761.3" stroke-width="0.9" fill="none" />
<ellipse cx="372.3" cy="763.5" rx="1.4" ry="1.0" fill="#000" stroke="none"/>
<path d="M286.3,712.7 L411.1,640.5 L419.8,645.3 L296.1,717.6 L289.6,715.8 Z" stroke-width="1.5" fill="#fff" />
<path d="M296.8,718.4 L380.0,670.5" stroke-width="1.0" fill="none" />
<ellipse cx="293.9" cy="713.2" rx="2.0" ry="1.3" fill="#000" stroke="none"/>
<ellipse cx="324.6" cy="695.2" rx="2.0" ry="1.3" fill="#000" stroke="none"/>
<ellipse cx="357.4" cy="676.6" rx="2.0" ry="1.3" fill="#000" stroke="none"/>
<ellipse cx="402.3" cy="650.8" rx="2.0" ry="1.3" fill="#000" stroke="none"/>
<ellipse cx="410.6" cy="645.8" rx="2.0" ry="1.3" fill="#000" stroke="none"/>
<path d="M272.0,718.0 L281.9,713.2 L296.1,718.0 L325.7,701.1 L351.9,716.5 L344.3,721.9 L365.1,714.3 L378.2,709.9 L385.9,704.4 L454.8,665.5 L464.7,670.5 L464.7,681.4 L344.3,753.7 L342.7,749.3 L333.3,753.0 Z" stroke-width="1.5" fill="#fff" />
<path d="M325.7,701.1 L315.8,706.6 L344.3,721.9" stroke-width="1.0" fill="none" />
<path d="M296.1,718.0 L320.2,732.5 L334.4,725.2 L344.3,721.9" stroke-width="1.2" fill="none" />
<path d="M320.2,732.5 L325.7,735.5 L338.8,728.5" stroke-width="1.0" fill="none" />
<path d="M464.7,670.5 L335.5,744.9" stroke-width="1.0" fill="none" />
<path d="M463.6,676.4 L345.4,743.8" stroke-width="0.8" fill="none" />
<path d="M333.3,753.0 L344.3,748.2 L344.3,753.7" stroke-width="1.2" fill="none" />
<path d="M325.7,735.5 L335.5,744.9 L344.3,748.2" stroke-width="1.2" fill="none" />
<ellipse cx="453.7" cy="670.9" rx="2.0" ry="1.3" fill="#000" stroke="none"/>
<ellipse cx="445.6" cy="675.5" rx="2.0" ry="1.3" fill="#000" stroke="none"/>
<ellipse cx="400.5" cy="701.1" rx="2.0" ry="1.3" fill="#000" stroke="none"/>
<ellipse cx="367.9" cy="720.2" rx="2.0" ry="1.3" fill="#000" stroke="none"/>
<ellipse cx="350.8" cy="723.7" rx="2.0" ry="1.3" fill="#000" stroke="none"/>
<ellipse cx="357.0" cy="726.8" rx="2.0" ry="1.3" fill="#000" stroke="none"/>
<ellipse cx="338.8" cy="730.7" rx="2.0" ry="1.3" fill="#000" stroke="none"/>
<ellipse cx="344.9" cy="734.0" rx="2.0" ry="1.3" fill="#000" stroke="none"/>
<ellipse cx="337.1" cy="737.9" rx="2.0" ry="1.3" fill="#000" stroke="none"/>
<ellipse cx="326.8" cy="744.9" rx="2.0" ry="1.3" fill="#000" stroke="none"/>
<ellipse cx="283.0" cy="719.8" rx="2.2" ry="1.3" stroke-width="0.9" fill="none"/>
<ellipse cx="326.3" cy="780.0" rx="1.8" ry="1.1" fill="#000" stroke="none"/>
<text x="455.5" y="735.0" font-size="15.5" text-anchor="middle" stroke="none" fill="#000">63</text>
<line x1="448.5" y1="718.0" x2="437.0" y2="698.0" stroke-width="1.1" />
<line x1="220.5" y1="503" x2="220.5" y2="542" stroke="#fff" stroke-width="5" stroke-linecap="butt"/>
<line x1="220.5" y1="250.0" x2="220.5" y2="724.5" stroke-width="1.15" />
<line x1="338.7" y1="287.0" x2="338.7" y2="345.0" stroke-width="1.15" />
<line x1="338.7" y1="345" x2="338.7" y2="572.5" stroke="#fff" stroke-width="3.4" stroke-linecap="butt"/>
<line x1="338.7" y1="345.0" x2="338.7" y2="572.5" stroke-width="1.15" />
<line x1="382.3" y1="336" x2="382.3" y2="811" stroke="#fff" stroke-width="3.4" stroke-linecap="butt"/>
<line x1="382.3" y1="336.0" x2="382.3" y2="811.0" stroke-width="1.15" />
<line x1="391.3" y1="347.0" x2="391.3" y2="384.0" stroke-width="1.15" />
<ellipse cx="391.5" cy="385.7" rx="4.0" ry="2.2" stroke-width="1.2" fill="none"/>
<line x1="391.5" y1="401.0" x2="391.5" y2="485.0" stroke-width="1.15" />
<ellipse cx="391.0" cy="343.6" rx="4.1" ry="3.69" fill="#000" stroke="none"/>
<path d="M389.0,346.1 L393.0,346.1 L392.2,349.1 L389.8,349.1 Z" fill="#000" stroke="none"/>
<ellipse cx="390.8" cy="343.0" rx="1.7" ry="1.5" fill="#777" stroke="none"/>
<text x="425.8" y="344.4" font-size="15.5" text-anchor="middle" stroke="none" fill="#000">70</text>
<line x1="412.7" y1="338.9" x2="395.5" y2="342.9" stroke-width="1.1" />
<line x1="513.4" y1="399.0" x2="513.4" y2="445.5" stroke-width="1.15" />
<ellipse cx="514.0" cy="446.2" rx="4.0" ry="2.2" stroke-width="1.2" fill="none"/>
<line x1="513.4" y1="460.0" x2="513.4" y2="545.5" stroke-width="1.15" />
<ellipse cx="513.4" cy="545.9" rx="2.2" ry="1.1" stroke-width="0.9" fill="none"/>
<ellipse cx="513.4" cy="395.4" rx="4.1" ry="3.69" fill="#000" stroke="none"/>
<path d="M511.4,397.9 L515.4,397.9 L514.6,400.9 L512.2,400.9 Z" fill="#000" stroke="none"/>
<ellipse cx="513.2" cy="394.8" rx="1.7" ry="1.5" fill="#777" stroke="none"/>
<text x="551.2" y="394.6" font-size="15.5" text-anchor="middle" stroke="none" fill="#000">70</text>
<line x1="537.3" y1="390.4" x2="517.8" y2="395.0" stroke-width="1.1" />
<path d="M230.7,486 L230.7,493 L225.8,497.5 L225.8,516.5" stroke-width="1.1" fill="none" />
<ellipse cx="225.8" cy="517.2" rx="2.4" ry="1.2" stroke-width="0.9" fill="none"/>
<ellipse cx="230.7" cy="481.7" rx="4.1" ry="3.69" fill="#000" stroke="none"/>
<path d="M228.7,484.2 L232.7,484.2 L231.9,487.2 L229.5,487.2 Z" fill="#000" stroke="none"/>
<ellipse cx="230.5" cy="481.1" rx="1.7" ry="1.5" fill="#777" stroke="none"/>
<text x="259.6" y="483.4" font-size="15.5" text-anchor="middle" stroke="none" fill="#000">70</text>
<line x1="247.7" y1="478.5" x2="234.9" y2="481.2" stroke-width="1.1" />
<line x1="283.1" y1="531.0" x2="283.1" y2="562.0" stroke-width="1.15" />
<ellipse cx="283.1" cy="526.5" rx="4.1" ry="3.69" fill="#000" stroke="none"/>
<path d="M281.1,529.0 L285.1,529.0 L284.3,532.0 L281.9,532.0 Z" fill="#000" stroke="none"/>
<ellipse cx="282.9" cy="525.9" rx="1.7" ry="1.5" fill="#777" stroke="none"/>
<text x="317.3" y="527.6" font-size="15.5" text-anchor="middle" stroke="none" fill="#000">70</text>
<line x1="304.4" y1="522.9" x2="287.5" y2="526.0" stroke-width="1.1" />
<line x1="283.1" y1="578.5" x2="283.1" y2="753.0" stroke-width="1.15" />
<line x1="467.3" y1="552" x2="467.3" y2="590" stroke="#fff" stroke-width="3.4" stroke-linecap="butt"/>
<line x1="467.3" y1="552.0" x2="467.3" y2="590.0" stroke-width="1.15" />
<ellipse cx="467.3" cy="590.6" rx="2.3" ry="1.2" stroke-width="0.9" fill="none"/>
<ellipse cx="467.3" cy="547.8" rx="4.1" ry="3.69" fill="#000" stroke="none"/>
<path d="M465.3,550.3 L469.3,550.3 L468.5,553.3 L466.1,553.3 Z" fill="#000" stroke="none"/>
<ellipse cx="467.1" cy="547.2" rx="1.7" ry="1.5" fill="#777" stroke="none"/>
<text x="497.9" y="548.7" font-size="15.5" text-anchor="middle" stroke="none" fill="#000">70</text>
<line x1="485.2" y1="543.9" x2="471.7" y2="547.0" stroke-width="1.1" />
<ellipse cx="605.8" cy="260.8" rx="4.1" ry="3.69" fill="#000" stroke="none"/>
<path d="M603.8,263.3 L607.8,263.3 L607.0,266.3 L604.6,266.3 Z" fill="#000" stroke="none"/>
<ellipse cx="605.6" cy="260.2" rx="1.7" ry="1.5" fill="#777" stroke="none"/>
<text x="567.1" y="261.5" font-size="15.5" text-anchor="middle" stroke="none" fill="#000">3</text>
<line x1="575.4" y1="256.2" x2="601.5" y2="260.6" stroke-width="1.1" />
<line x1="605.8" y1="266.0" x2="605.8" y2="295.0" stroke-width="1.1" />
<path d="M603.8,292.0 L605.8,296.0 L607.8,292.0" stroke-width="0.9" fill="none" />
<line x1="605.8" y1="298" x2="605.8" y2="372" stroke-width="1.0" stroke-dasharray="5.5 3.2" stroke-linecap="butt"/>
<line x1="605.8" y1="374.5" x2="605.8" y2="455.0" stroke-width="1.15" />
<line x1="692.5" y1="297.5" x2="692.5" y2="316.0" stroke-width="1.15" />
<line x1="692.5" y1="317" x2="692.5" y2="424" stroke-width="1.0" stroke-dasharray="5.5 3.2" stroke-linecap="butt"/>
<line x1="692.5" y1="431.0" x2="692.5" y2="480.0" stroke-width="1.15" />
<line x1="916.3" y1="369.5" x2="916.3" y2="399.0" stroke-width="1.0" />
<path d="M916.5,414.0 L916.5,441.7 L904.3,434.5 L904.3,586.8" stroke-width="1.1" fill="none" />
<ellipse cx="207.8" cy="692.5" rx="4.1" ry="3.69" fill="#000" stroke="none"/>
<path d="M205.8,695.0 L209.8,695.0 L209.0,698.0 L206.6,698.0 Z" fill="#000" stroke="none"/>
<ellipse cx="207.6" cy="691.9" rx="1.7" ry="1.5" fill="#777" stroke="none"/>
<line x1="207.5" y1="698.0" x2="207.5" y2="719.5" stroke-width="1.0" />
<text x="173.4" y="694.7" font-size="15.5" text-anchor="middle" stroke="none" fill="#000">3</text>
<line x1="182.4" y1="689.8" x2="203.5" y2="692.3" stroke-width="1.1" />
<ellipse cx="251.0" cy="892.5" rx="4.1" ry="3.69" fill="#000" stroke="none"/>
<path d="M249.0,895.0 L253.0,895.0 L252.2,898.0 L249.8,898.0 Z" fill="#000" stroke="none"/>
<ellipse cx="250.8" cy="891.9" rx="1.7" ry="1.5" fill="#777" stroke="none"/>
<line x1="251.0" y1="898.0" x2="251.0" y2="932.5" stroke-width="1.0" />
<text x="286.0" y="894.7" font-size="15.5" text-anchor="middle" stroke="none" fill="#000">3</text>
<line x1="277.9" y1="890.0" x2="255.6" y2="892.3" stroke-width="1.1" />
<ellipse cx="565.3" cy="1073.3" rx="4.1" ry="3.69" fill="#000" stroke="none"/>
<path d="M563.3,1075.8 L567.3,1075.8 L566.5,1078.8 L564.1,1078.8 Z" fill="#000" stroke="none"/>
<ellipse cx="565.1" cy="1072.7" rx="1.7" ry="1.5" fill="#777" stroke="none"/>
<line x1="565.3" y1="1079.0" x2="565.3" y2="1113.2" stroke-width="1.0" />
<text x="531.9" y="1075.1" font-size="15.5" text-anchor="middle" stroke="none" fill="#000">3</text>
<line x1="539.6" y1="1069.6" x2="561.0" y2="1072.8" stroke-width="1.1" />
</g>
</svg>
<div class="bar"><span style="left:210.58px;transform:scaleX(0.9386)">Doosan</span><span style="left:356.8px;transform:scaleX(0.8)">-</span><span style="left:377.78px;transform:scaleX(0.9416)">101582-00300A</span><span style="left:712.14px;transform:scaleX(0.92)">N</span><span style="left:749.9px;transform:scaleX(0.8)">-</span><span style="left:771.31px;transform:scaleX(0.895)">7</span></div>
</body></html>
